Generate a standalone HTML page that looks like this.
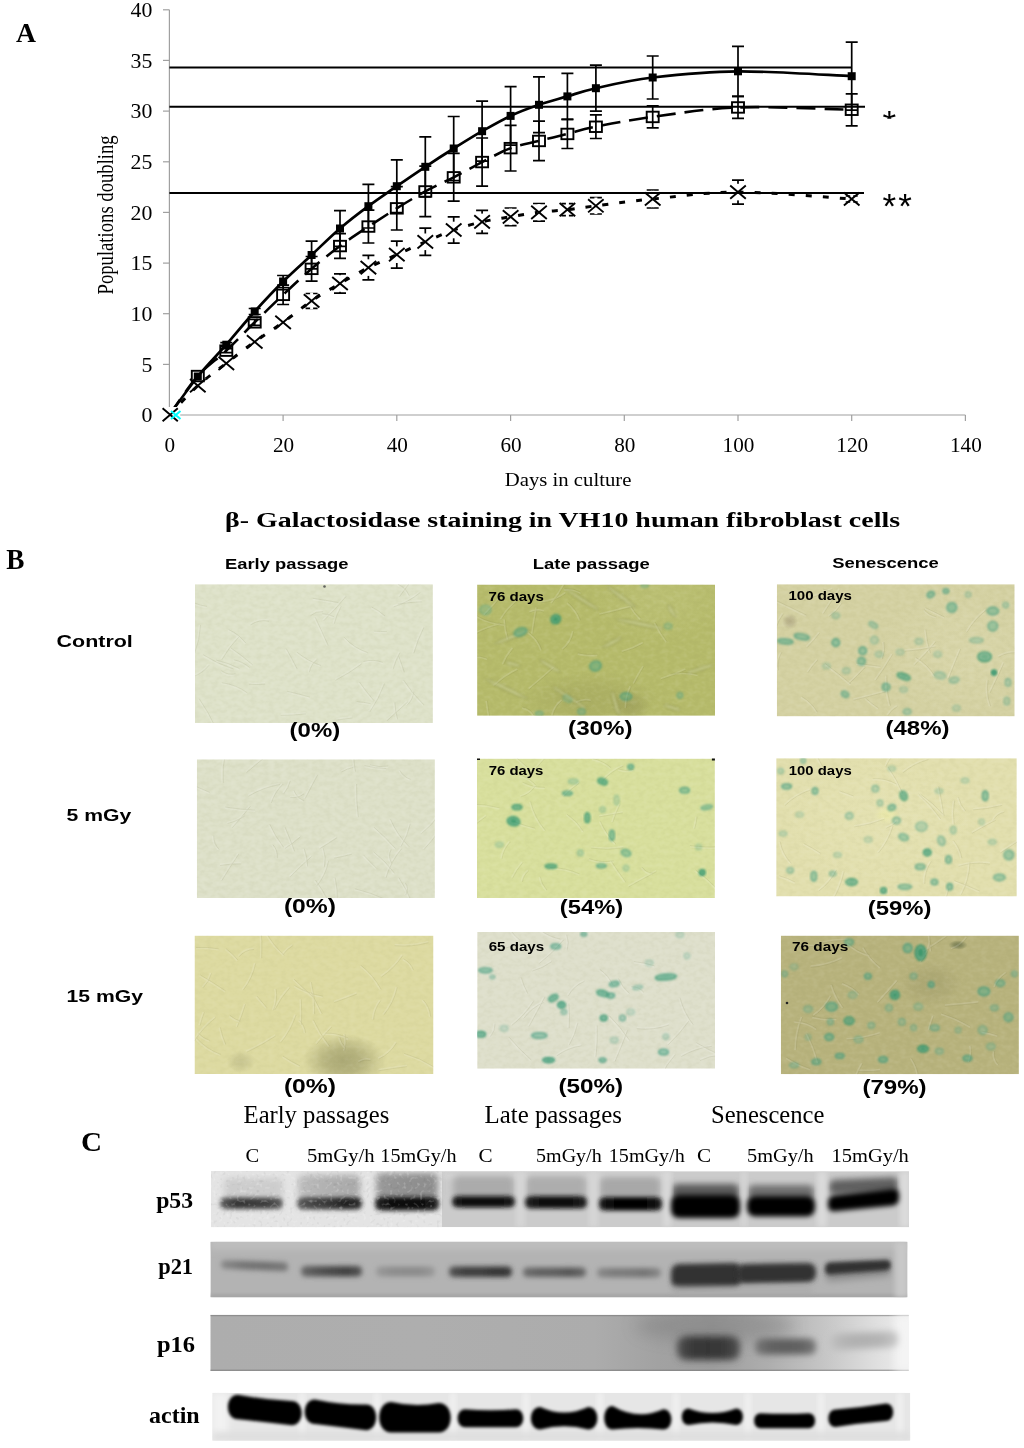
<!DOCTYPE html>
<html><head><meta charset="utf-8"><style>
html,body{margin:0;padding:0;background:#fff;}
svg{display:block;will-change:transform;}
</style></head><body>
<svg width="1024" height="1448" viewBox="0 0 1024 1448">
<defs><linearGradient id="g0" x1="0" x2="1" y1="0" y2="0"><stop offset="0.00" stop-color="#bcbcbc"/><stop offset="0.50" stop-color="#b0b0b0"/><stop offset="1.00" stop-color="#a8a8a8"/></linearGradient><linearGradient id="g1" x1="0" x2="1" y1="0" y2="0"><stop offset="0.00" stop-color="#9a9a9a"/><stop offset="0.50" stop-color="#909090"/><stop offset="1.00" stop-color="#8e8e8e"/></linearGradient><linearGradient id="g2" x1="0" x2="1" y1="0" y2="0"><stop offset="0.00" stop-color="#606060"/><stop offset="0.25" stop-color="#383838"/><stop offset="0.50" stop-color="#3a3a3a"/><stop offset="0.75" stop-color="#404040"/><stop offset="1.00" stop-color="#606060"/></linearGradient><linearGradient id="g3" x1="0" x2="1" y1="0" y2="0"><stop offset="0.00" stop-color="#606060"/><stop offset="0.25" stop-color="#444444"/><stop offset="0.50" stop-color="#383838"/><stop offset="0.75" stop-color="#222222"/><stop offset="1.00" stop-color="#2e2e2e"/></linearGradient><linearGradient id="g4" x1="0" x2="1" y1="0" y2="0"><stop offset="0.00" stop-color="#282828"/><stop offset="0.25" stop-color="#0e0e0e"/><stop offset="0.50" stop-color="#101010"/><stop offset="0.75" stop-color="#0e0e0e"/><stop offset="1.00" stop-color="#282828"/></linearGradient><linearGradient id="g5" x1="0" x2="1" y1="0" y2="0"><stop offset="0.00" stop-color="#222222"/><stop offset="0.25" stop-color="#080808"/><stop offset="0.50" stop-color="#080808"/><stop offset="0.75" stop-color="#0a0a0a"/><stop offset="1.00" stop-color="#222222"/></linearGradient><linearGradient id="g6" x1="0" x2="1" y1="0" y2="0"><stop offset="0.00" stop-color="#252525"/><stop offset="0.25" stop-color="#101010"/><stop offset="0.50" stop-color="#0c0c0c"/><stop offset="0.75" stop-color="#101010"/><stop offset="1.00" stop-color="#252525"/></linearGradient><linearGradient id="g7" x1="0" x2="1" y1="0" y2="0"><stop offset="0.00" stop-color="#1c1c1c"/><stop offset="0.25" stop-color="#050505"/><stop offset="0.50" stop-color="#050505"/><stop offset="0.75" stop-color="#050505"/><stop offset="1.00" stop-color="#1c1c1c"/></linearGradient><linearGradient id="g8" x1="0" x2="1" y1="0" y2="0"><stop offset="0.00" stop-color="#8a8a8a"/><stop offset="0.33" stop-color="#747474"/><stop offset="0.67" stop-color="#707070"/><stop offset="1.00" stop-color="#7a7a7a"/></linearGradient><linearGradient id="g9" x1="0" x2="1" y1="0" y2="0"><stop offset="0.00" stop-color="#6a6a6a"/><stop offset="0.25" stop-color="#555555"/><stop offset="0.50" stop-color="#4a4a4a"/><stop offset="0.75" stop-color="#404040"/><stop offset="1.00" stop-color="#555555"/></linearGradient><linearGradient id="g10" x1="0" x2="1" y1="0" y2="0"><stop offset="0.00" stop-color="#9a9a9a"/><stop offset="0.25" stop-color="#8e8e8e"/><stop offset="0.50" stop-color="#8c8c8c"/><stop offset="0.75" stop-color="#8c8c8c"/><stop offset="1.00" stop-color="#9a9a9a"/></linearGradient><linearGradient id="g11" x1="0" x2="1" y1="0" y2="0"><stop offset="0.00" stop-color="#555555"/><stop offset="0.25" stop-color="#3e3e3e"/><stop offset="0.50" stop-color="#3e3e3e"/><stop offset="0.75" stop-color="#333333"/><stop offset="1.00" stop-color="#3a3a3a"/></linearGradient><linearGradient id="g12" x1="0" x2="1" y1="0" y2="0"><stop offset="0.00" stop-color="#6e6e6e"/><stop offset="0.25" stop-color="#616161"/><stop offset="0.50" stop-color="#5e5e5e"/><stop offset="0.75" stop-color="#555555"/><stop offset="1.00" stop-color="#6a6a6a"/></linearGradient><linearGradient id="g13" x1="0" x2="1" y1="0" y2="0"><stop offset="0.00" stop-color="#8a8a8a"/><stop offset="0.25" stop-color="#7c7c7c"/><stop offset="0.50" stop-color="#7a7a7a"/><stop offset="0.75" stop-color="#747474"/><stop offset="1.00" stop-color="#8a8a8a"/></linearGradient><linearGradient id="g14" x1="0" x2="1" y1="0" y2="0"><stop offset="0.00" stop-color="#505050"/><stop offset="0.25" stop-color="#383838"/><stop offset="0.50" stop-color="#363636"/><stop offset="0.75" stop-color="#3a3a3a"/><stop offset="1.00" stop-color="#505050"/></linearGradient><linearGradient id="g15" x1="0" x2="1" y1="0" y2="0"><stop offset="0.00" stop-color="#787878"/><stop offset="0.25" stop-color="#626262"/><stop offset="0.50" stop-color="#5e5e5e"/><stop offset="0.75" stop-color="#626262"/><stop offset="1.00" stop-color="#787878"/></linearGradient><linearGradient id="g16" x1="0" x2="1" y1="0" y2="0"><stop offset="0.00" stop-color="#c0c0c0"/><stop offset="0.25" stop-color="#b2b2b2"/><stop offset="0.50" stop-color="#b0b0b0"/><stop offset="0.75" stop-color="#b4b4b4"/><stop offset="1.00" stop-color="#c8c8c8"/></linearGradient><filter id="b5" x="-30%" y="-60%" width="160%" height="220%"><feGaussianBlur stdDeviation="0.5"/></filter><filter id="b6" x="-30%" y="-60%" width="160%" height="220%"><feGaussianBlur stdDeviation="0.6"/></filter><filter id="b8" x="-30%" y="-60%" width="160%" height="220%"><feGaussianBlur stdDeviation="0.8"/></filter><filter id="b10" x="-30%" y="-60%" width="160%" height="220%"><feGaussianBlur stdDeviation="1.0"/></filter><filter id="b15" x="-30%" y="-60%" width="160%" height="220%"><feGaussianBlur stdDeviation="1.5"/></filter><filter id="b18" x="-30%" y="-60%" width="160%" height="220%"><feGaussianBlur stdDeviation="1.8"/></filter><filter id="b20" x="-30%" y="-60%" width="160%" height="220%"><feGaussianBlur stdDeviation="2.0"/></filter><filter id="b22" x="-30%" y="-60%" width="160%" height="220%"><feGaussianBlur stdDeviation="2.2"/></filter><filter id="b24" x="-30%" y="-60%" width="160%" height="220%"><feGaussianBlur stdDeviation="2.4"/></filter><filter id="b25" x="-30%" y="-60%" width="160%" height="220%"><feGaussianBlur stdDeviation="2.5"/></filter><filter id="b26" x="-30%" y="-60%" width="160%" height="220%"><feGaussianBlur stdDeviation="2.6"/></filter><filter id="b28" x="-30%" y="-60%" width="160%" height="220%"><feGaussianBlur stdDeviation="2.8"/></filter><filter id="b30" x="-30%" y="-60%" width="160%" height="220%"><feGaussianBlur stdDeviation="3.0"/></filter><filter id="b34" x="-30%" y="-60%" width="160%" height="220%"><feGaussianBlur stdDeviation="3.4"/></filter><filter id="b35" x="-30%" y="-60%" width="160%" height="220%"><feGaussianBlur stdDeviation="3.5"/></filter><filter id="b36" x="-30%" y="-60%" width="160%" height="220%"><feGaussianBlur stdDeviation="3.6"/></filter><filter id="b40" x="-30%" y="-60%" width="160%" height="220%"><feGaussianBlur stdDeviation="4.0"/></filter><filter id="b80" x="-30%" y="-60%" width="160%" height="220%"><feGaussianBlur stdDeviation="8.0"/></filter></defs>
<text x="16" y="41.7" font-family="Liberation Serif" font-weight="bold" font-size="28" textLength="20" lengthAdjust="spacingAndGlyphs">A</text>
<g stroke="#a0a0a0" stroke-width="1.2" fill="none">
<path d="M169.4,9.8 V415 H965.4"/>
<path d="M163,415.0 H169.4"/>
<path d="M163,364.4 H169.4"/>
<path d="M163,313.7 H169.4"/>
<path d="M163,263.1 H169.4"/>
<path d="M163,212.4 H169.4"/>
<path d="M163,161.8 H169.4"/>
<path d="M163,111.1 H169.4"/>
<path d="M163,60.4 H169.4"/>
<path d="M163,9.8 H169.4"/>
<path d="M169.4,415 V421"/>
<path d="M283.1,415 V421"/>
<path d="M396.8,415 V421"/>
<path d="M510.6,415 V421"/>
<path d="M624.3,415 V421"/>
<path d="M738.0,415 V421"/>
<path d="M851.7,415 V421"/>
<path d="M965.4,415 V421"/>
</g>
<g font-family="Liberation Serif" font-size="20.5" fill="#000" text-anchor="end">
<text x="152.3" y="422.3" textLength="10.9" lengthAdjust="spacingAndGlyphs">0</text>
<text x="152.3" y="371.7" textLength="10.9" lengthAdjust="spacingAndGlyphs">5</text>
<text x="152.3" y="321.0" textLength="21.8" lengthAdjust="spacingAndGlyphs">10</text>
<text x="152.3" y="270.4" textLength="21.8" lengthAdjust="spacingAndGlyphs">15</text>
<text x="152.3" y="219.7" textLength="21.8" lengthAdjust="spacingAndGlyphs">20</text>
<text x="152.3" y="169.1" textLength="21.8" lengthAdjust="spacingAndGlyphs">25</text>
<text x="152.3" y="118.4" textLength="21.8" lengthAdjust="spacingAndGlyphs">30</text>
<text x="152.3" y="67.7" textLength="21.8" lengthAdjust="spacingAndGlyphs">35</text>
<text x="152.3" y="17.1" textLength="21.8" lengthAdjust="spacingAndGlyphs">40</text>
</g>
<g font-family="Liberation Serif" font-size="20.5" fill="#000" text-anchor="middle">
<text x="169.9" y="451.7" textLength="10.6" lengthAdjust="spacingAndGlyphs">0</text>
<text x="283.6" y="451.7" textLength="21.2" lengthAdjust="spacingAndGlyphs">20</text>
<text x="397.3" y="451.7" textLength="21.2" lengthAdjust="spacingAndGlyphs">40</text>
<text x="511.1" y="451.7" textLength="21.2" lengthAdjust="spacingAndGlyphs">60</text>
<text x="624.8" y="451.7" textLength="21.2" lengthAdjust="spacingAndGlyphs">80</text>
<text x="738.5" y="451.7" textLength="31.8" lengthAdjust="spacingAndGlyphs">100</text>
<text x="852.2" y="451.7" textLength="31.8" lengthAdjust="spacingAndGlyphs">120</text>
<text x="965.9" y="451.7" textLength="31.8" lengthAdjust="spacingAndGlyphs">140</text>
</g>
<text x="504.8" y="486" font-family="Liberation Serif" font-size="19" textLength="126.6" lengthAdjust="spacingAndGlyphs">Days in culture</text>
<text transform="translate(112.7,294.5) rotate(-90)" font-family="Liberation Serif" font-size="23.6" textLength="159.2" lengthAdjust="spacingAndGlyphs">Populations doubling</text>
<path d="M169.4,415.0 C174.1,410.1 188.4,394.3 197.8,385.7 C207.3,377.1 216.8,370.6 226.3,363.3 C235.7,356.0 245.2,348.6 254.7,341.8 C264.2,335.0 273.6,329.1 283.1,322.3 C292.6,315.5 302.1,307.4 311.6,300.9 C321.0,294.4 330.5,289.1 340.0,283.5 C349.5,277.9 358.9,272.4 368.4,267.6 C377.9,262.8 387.4,259.0 396.8,254.7 C406.3,250.4 415.8,245.9 425.3,241.8 C434.7,237.7 444.2,233.3 453.7,230.0 C463.2,226.7 472.7,224.1 482.1,221.9 C491.6,219.7 501.1,218.4 510.6,216.8 C520.0,215.2 529.5,213.5 539.0,212.3 C548.5,211.1 557.9,210.8 567.4,209.7 C576.9,208.6 581.6,207.6 595.9,205.8 C610.1,204.0 629.0,201.3 652.7,199.0 C676.4,196.7 704.8,192.1 738.0,192.1 C771.2,192.1 832.8,197.8 851.7,199.0" fill="none" stroke="#000" stroke-width="3" stroke-dasharray="6 11"/>
<path d="M169.4,415.0 C174.1,408.5 188.4,386.7 197.8,376.0 C207.3,365.3 216.8,359.6 226.3,350.6 C235.7,341.7 245.2,331.6 254.7,322.3 C264.2,313.0 273.6,303.7 283.1,294.8 C292.6,285.9 302.1,276.9 311.6,268.8 C321.0,260.7 330.5,253.0 340.0,246.0 C349.5,239.0 358.9,232.9 368.4,226.6 C377.9,220.3 387.4,214.2 396.8,208.3 C406.3,202.4 415.8,196.6 425.3,191.4 C434.7,186.2 444.2,182.2 453.7,177.3 C463.2,172.4 472.7,166.9 482.1,162.1 C491.6,157.2 501.1,151.7 510.6,148.2 C520.0,144.7 529.5,143.3 539.0,140.9 C548.5,138.5 557.9,136.3 567.4,133.9 C576.9,131.5 581.6,129.5 595.9,126.7 C610.1,123.9 629.0,120.1 652.7,116.9 C676.4,113.7 704.8,108.6 738.0,107.4 C771.2,106.2 832.8,109.4 851.7,109.8" fill="none" stroke="#000" stroke-width="2.6" stroke-dasharray="19 9"/>
<path d="M169.4,415.0 C174.1,408.6 188.4,388.2 197.8,376.5 C207.3,364.8 216.8,355.5 226.3,344.7 C235.7,333.9 245.2,322.0 254.7,311.5 C264.2,301.0 273.6,290.9 283.1,281.5 C292.6,272.1 302.1,263.8 311.6,255.0 C321.0,246.2 330.5,236.6 340.0,228.5 C349.5,220.4 358.9,213.2 368.4,206.2 C377.9,199.1 387.4,192.8 396.8,186.2 C406.3,179.6 415.8,173.1 425.3,166.8 C434.7,160.5 444.2,154.4 453.7,148.5 C463.2,142.6 472.7,136.6 482.1,131.2 C491.6,125.8 501.1,120.3 510.6,115.9 C520.0,111.5 529.5,108.0 539.0,104.8 C548.5,101.5 557.9,99.2 567.4,96.4 C576.9,93.6 581.6,91.4 595.9,88.2 C610.1,85.0 629.0,80.3 652.7,77.5 C676.4,74.7 704.8,71.5 738.0,71.3 C771.2,71.1 832.8,75.4 851.7,76.2" fill="none" stroke="#000" stroke-width="2.7"/>
<g stroke="#000" stroke-width="1.7" fill="none">
<path d="M226.3,342.7 V346.7 M220.3,342.7 H232.3 M220.3,346.7 H232.3"/>
<path d="M254.7,308.5 V314.5 M248.7,308.5 H260.7 M248.7,314.5 H260.7"/>
<path d="M283.1,275.5 V287.5 M277.1,275.5 H289.1 M277.1,287.5 H289.1"/>
<path d="M311.6,241.2 V268.8 M305.6,241.2 H317.6 M305.6,268.8 H317.6"/>
<path d="M340.0,210.7 V246.3 M334.0,210.7 H346.0 M334.0,246.3 H346.0"/>
<path d="M368.4,184.4 V228.0 M362.4,184.4 H374.4 M362.4,228.0 H374.4"/>
<path d="M396.8,159.8 V212.6 M390.8,159.8 H402.8 M390.8,212.6 H402.8"/>
<path d="M425.3,136.8 V196.8 M419.3,136.8 H431.3 M419.3,196.8 H431.3"/>
<path d="M453.7,116.5 V180.5 M447.7,116.5 H459.7 M447.7,180.5 H459.7"/>
<path d="M482.1,101.2 V161.2 M476.1,101.2 H488.1 M476.1,161.2 H488.1"/>
<path d="M510.6,86.6 V145.2 M504.6,86.6 H516.6 M504.6,145.2 H516.6"/>
<path d="M539.0,76.9 V132.7 M533.0,76.9 H545.0 M533.0,132.7 H545.0"/>
<path d="M567.4,73.4 V119.4 M561.4,73.4 H573.4 M561.4,119.4 H573.4"/>
<path d="M595.9,65.2 V111.2 M589.9,65.2 H601.9 M589.9,111.2 H601.9"/>
<path d="M652.7,56.0 V99.0 M646.7,56.0 H658.7 M646.7,99.0 H658.7"/>
<path d="M738.0,46.3 V96.3 M732.0,46.3 H744.0 M732.0,96.3 H744.0"/>
<path d="M851.7,42.2 V110.2 M845.7,42.2 H857.7 M845.7,110.2 H857.7"/>
<path d="M226.3,348.6 V352.6 M220.3,348.6 H232.3 M220.3,352.6 H232.3"/>
<path d="M254.7,319.3 V325.3 M248.7,319.3 H260.7 M248.7,325.3 H260.7"/>
<path d="M283.1,285.1 V304.5 M277.1,285.1 H289.1 M277.1,304.5 H289.1"/>
<path d="M311.6,256.5 V281.1 M305.6,256.5 H317.6 M305.6,281.1 H317.6"/>
<path d="M340.0,233.7 V258.3 M334.0,233.7 H346.0 M334.0,258.3 H346.0"/>
<path d="M368.4,210.2 V243.0 M362.4,210.2 H374.4 M362.4,243.0 H374.4"/>
<path d="M396.8,186.6 V230.0 M390.8,186.6 H402.8 M390.8,230.0 H402.8"/>
<path d="M425.3,166.1 V216.7 M419.3,166.1 H431.3 M419.3,216.7 H431.3"/>
<path d="M453.7,153.4 V201.2 M447.7,153.4 H459.7 M447.7,201.2 H459.7"/>
<path d="M482.1,138.0 V186.2 M476.1,138.0 H488.1 M476.1,186.2 H488.1"/>
<path d="M510.6,125.4 V171.0 M504.6,125.4 H516.6 M504.6,171.0 H516.6"/>
<path d="M539.0,121.1 V160.7 M533.0,121.1 H545.0 M533.0,160.7 H545.0"/>
<path d="M567.4,119.3 V148.5 M561.4,119.3 H573.4 M561.4,148.5 H573.4"/>
<path d="M595.9,114.9 V138.5 M589.9,114.9 H601.9 M589.9,138.5 H601.9"/>
<path d="M652.7,105.9 V127.9 M646.7,105.9 H658.7 M646.7,127.9 H658.7"/>
<path d="M738.0,96.4 V118.4 M732.0,96.4 H744.0 M732.0,118.4 H744.0"/>
<path d="M851.7,93.8 V125.8 M845.7,93.8 H857.7 M845.7,125.8 H857.7"/>
<path d="M311.6,293.5 V308.3 M305.6,293.5 H317.6 M305.6,308.3 H317.6"/>
<path d="M340.0,273.9 V293.1 M334.0,273.9 H346.0 M334.0,293.1 H346.0"/>
<path d="M368.4,255.4 V279.8 M362.4,255.4 H374.4 M362.4,279.8 H374.4"/>
<path d="M396.8,241.2 V268.2 M390.8,241.2 H402.8 M390.8,268.2 H402.8"/>
<path d="M425.3,228.2 V255.4 M419.3,228.2 H431.3 M419.3,255.4 H431.3"/>
<path d="M453.7,216.8 V243.2 M447.7,216.8 H459.7 M447.7,243.2 H459.7"/>
<path d="M482.1,210.4 V233.4 M476.1,210.4 H488.1 M476.1,233.4 H488.1"/>
<path d="M510.6,208.0 V225.6 M504.6,208.0 H516.6 M504.6,225.6 H516.6"/>
<path d="M539.0,203.5 V221.1 M533.0,203.5 H545.0 M533.0,221.1 H545.0"/>
<path d="M567.4,203.7 V215.7 M561.4,203.7 H573.4 M561.4,215.7 H573.4"/>
<path d="M595.9,197.6 V214.0 M589.9,197.6 H601.9 M589.9,214.0 H601.9"/>
<path d="M652.7,190.0 V208.0 M646.7,190.0 H658.7 M646.7,208.0 H658.7"/>
<path d="M738.0,180.1 V204.1 M732.0,180.1 H744.0 M732.0,204.1 H744.0"/>
<path d="M851.7,196.0 V202.0 M845.7,196.0 H857.7 M845.7,202.0 H857.7"/>
</g>
<g fill="#fff">
<rect x="310.1" y="292.6" width="3" height="16.6"/>
<rect x="338.5" y="275.2" width="3" height="16.6"/>
<rect x="366.9" y="259.3" width="3" height="16.6"/>
<rect x="395.3" y="246.4" width="3" height="16.6"/>
<rect x="423.8" y="233.5" width="3" height="16.6"/>
<rect x="452.2" y="221.7" width="3" height="16.6"/>
<rect x="480.6" y="213.6" width="3" height="16.6"/>
<rect x="509.1" y="208.5" width="3" height="16.6"/>
<rect x="537.5" y="204.0" width="3" height="16.6"/>
<rect x="565.9" y="201.4" width="3" height="16.6"/>
<rect x="594.4" y="197.5" width="3" height="16.6"/>
<rect x="651.2" y="190.7" width="3" height="16.6"/>
<rect x="736.5" y="183.8" width="3" height="16.6"/>
<rect x="850.2" y="190.7" width="3" height="16.6"/>
</g>
<g stroke="#000" stroke-width="1.9" fill="none">
<path d="M190.0,379.1 L205.6,392.3 M190.0,392.3 L205.6,379.1"/>
<path d="M218.5,356.7 L234.1,369.9 M218.5,369.9 L234.1,356.7"/>
<path d="M246.9,335.2 L262.5,348.4 M246.9,348.4 L262.5,335.2"/>
<path d="M275.3,315.7 L290.9,328.9 M275.3,328.9 L290.9,315.7"/>
<path d="M303.8,294.3 L319.4,307.5 M303.8,307.5 L319.4,294.3"/>
<path d="M332.2,276.9 L347.8,290.1 M332.2,290.1 L347.8,276.9"/>
<path d="M360.6,261.0 L376.2,274.2 M360.6,274.2 L376.2,261.0"/>
<path d="M389.0,248.1 L404.6,261.3 M389.0,261.3 L404.6,248.1"/>
<path d="M417.5,235.2 L433.1,248.4 M417.5,248.4 L433.1,235.2"/>
<path d="M445.9,223.4 L461.5,236.6 M445.9,236.6 L461.5,223.4"/>
<path d="M474.3,215.3 L489.9,228.5 M474.3,228.5 L489.9,215.3"/>
<path d="M502.8,210.2 L518.4,223.4 M502.8,223.4 L518.4,210.2"/>
<path d="M531.2,205.7 L546.8,218.9 M531.2,218.9 L546.8,205.7"/>
<path d="M559.6,203.1 L575.2,216.3 M559.6,216.3 L575.2,203.1"/>
<path d="M588.1,199.2 L603.6,212.4 M588.1,212.4 L603.6,199.2"/>
<path d="M644.9,192.4 L660.5,205.6 M644.9,205.6 L660.5,192.4"/>
<path d="M730.2,185.5 L745.8,198.7 M730.2,198.7 L745.8,185.5"/>
<path d="M843.9,192.4 L859.5,205.6 M843.9,205.6 L859.5,192.4"/>
<rect x="162" y="407" width="18.2" height="15.5" fill="#fff" stroke="none"/>
<path d="M162.6,408.3 L177.8,421.2 M162.6,421.2 L177.8,408.3"/>
<rect x="191.8" y="370.8" width="12" height="10.5"/>
<rect x="220.3" y="345.4" width="12" height="10.5"/>
<rect x="248.7" y="317.1" width="12" height="10.5"/>
<rect x="277.1" y="289.6" width="12" height="10.5"/>
<rect x="305.6" y="263.6" width="12" height="10.5"/>
<rect x="334.0" y="240.8" width="12" height="10.5"/>
<rect x="362.4" y="221.3" width="12" height="10.5"/>
<rect x="390.8" y="203.1" width="12" height="10.5"/>
<rect x="419.3" y="186.2" width="12" height="10.5"/>
<rect x="447.7" y="172.1" width="12" height="10.5"/>
<rect x="476.1" y="156.8" width="12" height="10.5"/>
<rect x="504.6" y="142.9" width="12" height="10.5"/>
<rect x="533.0" y="135.7" width="12" height="10.5"/>
<rect x="561.4" y="128.7" width="12" height="10.5"/>
<rect x="589.9" y="121.5" width="12" height="10.5"/>
<rect x="646.7" y="111.7" width="12" height="10.5"/>
<rect x="732.0" y="102.2" width="12" height="10.5"/>
<rect x="845.7" y="104.5" width="12" height="10.5"/>
</g>
<g fill="#000">
<rect x="193.8" y="372.5" width="8" height="8"/>
<rect x="222.3" y="340.7" width="8" height="8"/>
<rect x="250.7" y="307.5" width="8" height="8"/>
<rect x="279.1" y="277.5" width="8" height="8"/>
<rect x="307.6" y="251.0" width="8" height="8"/>
<rect x="336.0" y="224.5" width="8" height="8"/>
<rect x="364.4" y="202.2" width="8" height="8"/>
<rect x="392.8" y="182.2" width="8" height="8"/>
<rect x="421.3" y="162.8" width="8" height="8"/>
<rect x="449.7" y="144.5" width="8" height="8"/>
<rect x="478.1" y="127.2" width="8" height="8"/>
<rect x="506.6" y="111.9" width="8" height="8"/>
<rect x="535.0" y="100.8" width="8" height="8"/>
<rect x="563.4" y="92.4" width="8" height="8"/>
<rect x="591.9" y="84.2" width="8" height="8"/>
<rect x="648.7" y="73.5" width="8" height="8"/>
<rect x="734.0" y="67.3" width="8" height="8"/>
<rect x="847.7" y="72.2" width="8" height="8"/>
</g>
<g stroke="#000" stroke-width="2">
<path d="M169.4,67.5 H852"/>
<path d="M169.4,106.7 H865"/>
<path d="M169.4,193 H864"/>
</g>
<path d="M171,411 L180.5,419 M171,419 L180.5,411" stroke="#00ffff" stroke-width="2"/>
<clipPath id="ast"><rect x="878" y="105" width="24" height="13.8"/></clipPath>
<g font-family="Liberation Sans" font-size="35" fill="#000">
<text x="882.6" y="135" clip-path="url(#ast)">*</text>
<text x="882.6" y="218.4">*</text>
<text x="898.2" y="218.4">*</text>
</g>
<text x="225" y="526.6" font-family="Liberation Serif" font-weight="bold" font-size="20.5" textLength="675" lengthAdjust="spacingAndGlyphs">β- Galactosidase staining in VH10 human fibroblast cells</text>
<text x="6.2" y="568.7" font-family="Liberation Serif" font-weight="bold" font-size="29" textLength="18.2" lengthAdjust="spacingAndGlyphs">B</text>
<text x="225.0" y="568.6" font-family="Liberation Sans" font-weight="bold" font-size="15.5" textLength="123.4" lengthAdjust="spacingAndGlyphs">Early passage</text>
<text x="532.8" y="568.6" font-family="Liberation Sans" font-weight="bold" font-size="15.5" textLength="116.9" lengthAdjust="spacingAndGlyphs">Late passage</text>
<text x="832.2" y="568.4" font-family="Liberation Sans" font-weight="bold" font-size="15.5" textLength="106.5" lengthAdjust="spacingAndGlyphs">Senescence</text>
<text x="56.6" y="647.2" font-family="Liberation Sans" font-weight="bold" font-size="17.2" textLength="76.2" lengthAdjust="spacingAndGlyphs">Control</text>
<text x="66.5" y="820.9" font-family="Liberation Sans" font-weight="bold" font-size="17.2" textLength="64.7" lengthAdjust="spacingAndGlyphs">5 mGy</text>
<text x="66.5" y="1002.1" font-family="Liberation Sans" font-weight="bold" font-size="17.2" textLength="76.4" lengthAdjust="spacingAndGlyphs">15 mGy</text>
<filter id="texL0" x="0" y="0" width="100%" height="100%"><feTurbulence type="fractalNoise" baseFrequency="0.16 0.22" numOctaves="2" seed="11"/><feColorMatrix type="matrix" values="0 0 0 0 1  0 0 0 0 1  0 0 0 0 1  3 0 0 0 -1.45"/></filter>
<filter id="texD0" x="0" y="0" width="100%" height="100%"><feTurbulence type="fractalNoise" baseFrequency="0.16 0.22" numOctaves="2" seed="11"/><feColorMatrix type="matrix" values="0 0 0 0 0.25  0 0 0 0 0.25  0 0 0 0 0.1  -3 0 0 0 1.55"/></filter>
<filter id="texL1" x="0" y="0" width="100%" height="100%"><feTurbulence type="fractalNoise" baseFrequency="0.16 0.22" numOctaves="2" seed="18"/><feColorMatrix type="matrix" values="0 0 0 0 1  0 0 0 0 1  0 0 0 0 1  3 0 0 0 -1.45"/></filter>
<filter id="texD1" x="0" y="0" width="100%" height="100%"><feTurbulence type="fractalNoise" baseFrequency="0.16 0.22" numOctaves="2" seed="18"/><feColorMatrix type="matrix" values="0 0 0 0 0.25  0 0 0 0 0.25  0 0 0 0 0.1  -3 0 0 0 1.55"/></filter>
<filter id="texL2" x="0" y="0" width="100%" height="100%"><feTurbulence type="fractalNoise" baseFrequency="0.16 0.22" numOctaves="2" seed="25"/><feColorMatrix type="matrix" values="0 0 0 0 1  0 0 0 0 1  0 0 0 0 1  3 0 0 0 -1.45"/></filter>
<filter id="texD2" x="0" y="0" width="100%" height="100%"><feTurbulence type="fractalNoise" baseFrequency="0.16 0.22" numOctaves="2" seed="25"/><feColorMatrix type="matrix" values="0 0 0 0 0.25  0 0 0 0 0.25  0 0 0 0 0.1  -3 0 0 0 1.55"/></filter>
<clipPath id="ci0"><rect x="195.0" y="584.2" width="237.9" height="138.9"/></clipPath>
<g clip-path="url(#ci0)">
<rect x="195.0" y="584.2" width="237.9" height="138.9" fill="#dee2c9"/>
<rect x="195.0" y="584.2" width="237.9" height="138.9" filter="url(#texL0)" opacity="0.10"/>
<rect x="195.0" y="584.2" width="237.9" height="138.9" filter="url(#texD0)" opacity="0.05"/>
<path d="M238.4,635.8 Q228.2,646.3 220.9,659.0 M286.6,692.4 Q298.2,695.0 309.6,698.3 M198.3,699.5 Q207.7,713.0 214.5,728.1 M371.1,608.1 Q378.4,611.5 384.3,617.0 M352.2,716.9 Q343.9,717.6 335.8,719.1 M412.9,690.9 Q412.1,699.2 405.9,704.8 M199.3,624.9 Q198.7,639.6 193.3,653.3 M393.7,702.6 Q394.0,711.3 396.5,719.6 M421.7,600.6 Q409.6,600.9 397.6,603.0 M358.5,682.7 Q365.1,692.3 372.7,701.0 M314.2,617.9 Q320.8,631.8 327.1,645.9 M383.4,683.2 Q377.9,698.1 368.9,711.3 M406.9,701.2 Q396.5,710.4 386.3,719.8 M316.4,658.7 Q309.9,663.6 308.4,671.6 M221.4,683.8 Q235.5,685.6 247.0,694.0 M340.1,605.9 Q335.5,614.2 333.1,623.4 M363.5,662.7 Q373.2,660.0 382.8,663.5 M229.9,648.7 Q241.4,656.5 251.9,665.7 M422.8,626.9 Q416.6,639.4 412.7,652.7 M296.4,653.3 Q307.3,662.0 320.4,666.6 M396.9,585.0 Q404.9,588.4 408.5,596.5 M221.1,671.8 Q227.6,676.8 235.5,674.8 M285.4,649.4 Q291.0,659.1 295.9,669.2 M233.3,660.9 Q242.2,662.6 249.1,668.6 M305.7,712.7 Q293.2,714.2 280.6,714.2 M265.1,682.9 Q257.0,683.8 248.9,683.0 M268.7,620.0 Q258.8,618.0 250.4,623.7 M321.9,614.9 Q328.2,614.9 333.8,617.9 M360.9,663.0 Q348.5,672.2 334.9,679.4 M343.6,638.3 Q353.2,649.1 367.0,653.6 M208.4,664.2 Q202.1,672.3 192.4,675.8 M415.4,573.3 Q406.9,584.6 398.5,596.0 M227.9,630.5 Q238.2,635.2 245.1,644.0 M398.9,652.2 Q394.4,660.1 392.0,668.8 M215.7,661.2 Q227.9,663.9 239.0,669.6 M397.6,656.6 Q400.7,664.5 403.1,672.6 M356.6,702.7 Q363.6,703.3 370.4,704.8 M192.9,603.7 Q199.5,606.6 206.6,607.6 M202.7,655.8 Q216.8,664.8 232.7,670.0 M345.1,595.7 Q334.7,608.5 322.8,619.9 M419.7,591.5 Q407.8,601.4 393.0,605.9 M402.6,680.7 Q411.3,694.3 422.9,705.5 M374.1,632.3 Q380.5,632.6 386.9,632.9 M312.6,599.5 Q325.4,601.4 338.1,603.7 M322.7,610.5 Q315.6,609.8 310.3,614.4" stroke="#ffffff" stroke-width="1.6" opacity="0.13" fill="none" filter="url(#b6)"/>
<path d="M239.3,636.5 Q229.1,647.0 221.9,659.7 M286.9,691.2 Q298.5,693.8 309.9,697.1 M199.3,698.9 Q208.8,712.4 215.6,727.5 M371.8,607.1 Q379.1,610.5 385.0,616.0 M352.4,718.0 Q344.1,718.8 335.9,720.3 M413.9,691.4 Q413.1,699.7 407.0,705.3 M200.5,625.2 Q199.9,639.9 194.5,653.6 M394.9,702.4 Q395.2,711.1 397.7,719.4 M421.8,601.8 Q409.7,602.1 397.8,604.2 M359.5,682.0 Q366.0,691.5 373.7,700.3 M315.3,617.4 Q321.9,631.3 328.2,645.4 M384.5,683.7 Q379.0,698.7 370.0,711.8 M407.7,702.1 Q397.3,711.3 387.1,720.7 M317.4,659.3 Q311.0,664.2 309.4,672.2 M221.8,682.7 Q236.0,684.5 247.4,692.9 M341.2,606.4 Q336.6,614.6 334.3,623.8 M363.5,661.5 Q373.3,658.8 382.8,662.3 M230.6,647.7 Q242.1,655.5 252.6,664.7 M423.9,627.4 Q417.7,639.8 413.9,653.2 M297.0,652.2 Q307.8,661.0 321.0,665.5 M397.7,584.1 Q405.8,587.6 409.3,595.7 M221.4,670.6 Q227.8,675.6 235.7,673.7 M286.4,648.8 Q292.0,658.5 297.0,668.6 M233.9,659.8 Q242.8,661.6 249.6,667.5 M305.8,713.9 Q293.3,715.4 280.7,715.4 M265.1,684.1 Q257.0,685.0 248.9,684.2 M269.0,621.2 Q259.0,619.2 250.6,624.9 M322.2,613.7 Q328.5,613.7 334.1,616.8 M361.6,664.0 Q349.2,673.2 335.5,680.4 M344.2,637.2 Q353.9,648.1 367.7,652.6 M209.1,665.2 Q202.8,673.3 193.1,676.7 M416.3,574.1 Q407.9,585.3 399.5,596.7 M228.7,629.6 Q238.9,634.2 245.8,643.1 M400.0,652.7 Q395.5,660.6 393.1,669.3 M216.1,660.0 Q228.3,662.8 239.5,668.5 M398.7,656.2 Q401.8,664.1 404.3,672.2 M356.8,701.6 Q363.7,702.1 370.6,703.6 M193.2,602.5 Q199.8,605.4 207.0,606.4 M203.2,654.7 Q217.3,663.7 233.3,668.9 M346.0,596.5 Q335.6,609.3 323.7,620.8 M420.3,592.5 Q408.4,602.4 393.6,606.9 M403.5,679.9 Q412.2,693.5 423.9,704.8 M374.2,631.1 Q380.5,631.4 386.9,631.7 M312.8,598.3 Q325.6,600.2 338.3,602.5 M323.1,611.7 Q316.0,610.9 310.6,615.6" stroke="#5a5a30" stroke-width="0.8" opacity="0.10" fill="none" filter="url(#b5)"/>
</g>
<clipPath id="ci1"><rect x="477.1" y="584.5" width="237.9" height="131.3"/></clipPath>
<g clip-path="url(#ci1)">
<rect x="477.1" y="584.5" width="237.9" height="131.3" fill="#b6bb6b"/>
<radialGradient id="sh1_0"><stop offset="0" stop-color="#8a8a50" stop-opacity="0.35"/><stop offset="0.45" stop-color="#8a8a50" stop-opacity="0.26"/><stop offset="1" stop-color="#8a8a50" stop-opacity="0"/></radialGradient>
<ellipse cx="630.7" cy="705.9" rx="19.2" ry="14.4" fill="url(#sh1_0)"/>
<radialGradient id="sh1_1"><stop offset="0" stop-color="#8c8c4c" stop-opacity="0.25"/><stop offset="0.45" stop-color="#8c8c4c" stop-opacity="0.19"/><stop offset="1" stop-color="#8c8c4c" stop-opacity="0"/></radialGradient>
<ellipse cx="590.0" cy="700.0" rx="72.0" ry="28.8" fill="url(#sh1_1)"/>
<radialGradient id="sh1_2"><stop offset="0" stop-color="#c8cc88" stop-opacity="0.30"/><stop offset="0.45" stop-color="#c8cc88" stop-opacity="0.22"/><stop offset="1" stop-color="#c8cc88" stop-opacity="0"/></radialGradient>
<ellipse cx="660.0" cy="600.0" rx="64.0" ry="40.0" fill="url(#sh1_2)"/>
<rect x="477.1" y="584.5" width="237.9" height="131.3" filter="url(#texL1)" opacity="0.07"/>
<rect x="477.1" y="584.5" width="237.9" height="131.3" filter="url(#texD1)" opacity="0.07"/>
<path d="M631.5,606.1 Q615.4,610.3 599.2,614.0 M629.7,606.0 Q633.7,613.6 640.1,619.3 M522.1,708.1 Q529.5,709.3 533.2,715.9 M654.4,623.1 Q659.3,633.2 666.1,642.2 M567.0,603.1 Q575.7,610.0 579.4,620.6 M685.4,669.0 Q673.3,674.6 660.6,678.6 M572.6,631.0 Q570.7,642.0 562.0,649.0 M577.7,654.1 Q587.4,656.4 597.3,655.4 M471.7,657.8 Q479.6,656.1 487.0,659.4 M501.6,594.1 Q493.6,605.0 483.8,614.5 M642.9,642.5 Q632.9,648.3 621.7,651.2 M670.6,675.0 Q684.1,671.9 697.6,675.5 M499.9,623.7 Q483.7,627.4 469.5,636.1 M517.4,669.0 Q504.1,675.2 493.4,685.4 M520.5,597.2 Q508.2,605.8 500.5,618.8 M590.8,700.3 Q582.9,698.3 575.9,702.3 M564.1,583.4 Q558.4,594.0 550.7,603.3 M476.3,616.9 Q489.8,624.4 505.2,625.3 M543.8,610.9 Q536.4,608.1 529.4,611.8 M565.4,592.5 Q554.4,600.7 540.7,601.6 M630.1,686.2 Q625.3,696.5 625.3,707.8 M536.0,607.3 Q533.6,620.3 531.7,633.5 M561.5,699.8 Q554.0,705.8 551.8,715.3 M564.2,589.9 Q573.0,588.9 580.7,593.4 M504.1,619.5 Q504.5,629.7 507.4,639.4 M643.0,666.0 Q637.7,674.5 633.2,683.5 M512.4,648.1 Q505.8,655.2 502.4,664.3 M527.8,632.8 Q537.3,639.4 540.9,650.5 M486.2,701.0 Q487.6,715.1 491.6,728.7 M553.5,667.0 Q541.3,678.0 528.6,688.5" stroke="#ffffff" stroke-width="1.6" opacity="0.13" fill="none" filter="url(#b6)"/>
<path d="M631.8,607.3 Q615.7,611.5 599.5,615.2 M630.7,605.3 Q634.7,612.9 641.1,618.6 M522.7,707.2 Q530.2,708.3 533.9,714.9 M655.5,622.4 Q660.3,632.6 667.1,641.6 M568.0,602.4 Q576.7,609.4 580.4,619.9 M685.8,670.1 Q673.7,675.7 661.0,679.7 M573.7,631.6 Q571.8,642.6 563.1,649.7 M577.8,652.9 Q587.5,655.2 597.4,654.2 M471.8,656.6 Q479.8,654.9 487.1,658.2 M502.5,594.9 Q494.5,605.8 484.7,615.3 M643.4,643.6 Q633.3,649.4 622.1,652.4 M670.6,673.8 Q684.2,670.7 697.6,674.3 M500.3,624.8 Q484.1,628.5 470.0,637.3 M518.0,670.0 Q504.7,676.2 494.1,686.3 M521.4,598.0 Q509.1,606.7 501.3,619.6 M590.9,701.5 Q583.1,699.4 576.0,703.5 M565.1,584.1 Q559.4,594.7 551.7,604.0 M476.7,615.7 Q490.1,623.3 505.6,624.2 M543.9,612.1 Q536.5,609.3 529.4,613.0 M565.8,593.6 Q554.8,601.8 541.1,602.7 M631.3,686.5 Q626.5,696.7 626.5,708.0 M537.2,607.5 Q534.7,620.5 532.9,633.7 M562.5,700.4 Q555.0,706.5 552.8,715.9 M564.5,588.7 Q573.3,587.7 580.9,592.2 M505.3,619.3 Q505.6,629.5 508.6,639.2 M644.0,666.6 Q638.8,675.1 634.2,684.0 M513.4,648.7 Q506.9,655.8 503.5,664.9 M528.8,632.1 Q538.3,638.7 541.9,649.8 M487.4,700.7 Q488.8,714.9 492.8,728.5 M554.3,667.9 Q542.1,678.9 529.4,689.4" stroke="#5a5a30" stroke-width="0.8" opacity="0.10" fill="none" filter="url(#b5)"/>
<ellipse cx="512.3" cy="636.8" rx="20.0" ry="2.6" transform="rotate(-21.8 512.3 636.8)" fill="#70743a" opacity="0.28" filter="url(#b10)"/>
<ellipse cx="512.3" cy="636.8" rx="19.0" ry="1.3" transform="rotate(-21.8 512.3 636.8)" fill="#e4e9b0" opacity="0.55" filter="url(#b8)"/>
<ellipse cx="506.5" cy="688.8" rx="24.3" ry="2.6" transform="rotate(25.2 506.5 688.8)" fill="#70743a" opacity="0.28" filter="url(#b10)"/>
<ellipse cx="506.5" cy="688.8" rx="23.3" ry="1.3" transform="rotate(25.2 506.5 688.8)" fill="#e4e9b0" opacity="0.55" filter="url(#b8)"/>
<ellipse cx="621.3" cy="596.8" rx="18.6" ry="2.6" transform="rotate(36.8 621.3 596.8)" fill="#70743a" opacity="0.28" filter="url(#b10)"/>
<ellipse cx="621.3" cy="596.8" rx="17.6" ry="1.3" transform="rotate(36.8 621.3 596.8)" fill="#e4e9b0" opacity="0.55" filter="url(#b8)"/>
<ellipse cx="581.5" cy="599.2" rx="20.5" ry="2.6" transform="rotate(32.7 581.5 599.2)" fill="#70743a" opacity="0.28" filter="url(#b10)"/>
<ellipse cx="581.5" cy="599.2" rx="19.5" ry="1.3" transform="rotate(32.7 581.5 599.2)" fill="#e4e9b0" opacity="0.55" filter="url(#b8)"/>
<ellipse cx="612.0" cy="642.6" rx="11.5" ry="2.6" transform="rotate(-26.7 612.0 642.6)" fill="#70743a" opacity="0.28" filter="url(#b10)"/>
<ellipse cx="612.0" cy="642.6" rx="10.5" ry="1.3" transform="rotate(-26.7 612.0 642.6)" fill="#e4e9b0" opacity="0.55" filter="url(#b8)"/>
<ellipse cx="640.0" cy="623.9" rx="24.9" ry="2.6" transform="rotate(11.2 640.0 623.9)" fill="#70743a" opacity="0.28" filter="url(#b10)"/>
<ellipse cx="640.0" cy="623.9" rx="23.9" ry="1.3" transform="rotate(11.2 640.0 623.9)" fill="#e4e9b0" opacity="0.55" filter="url(#b8)"/>
<ellipse cx="671.7" cy="611.0" rx="7.8" ry="2.6" transform="rotate(59.1 671.7 611.0)" fill="#70743a" opacity="0.28" filter="url(#b10)"/>
<ellipse cx="671.7" cy="611.0" rx="6.8" ry="1.3" transform="rotate(59.1 671.7 611.0)" fill="#e4e9b0" opacity="0.55" filter="url(#b8)"/>
<ellipse cx="699.8" cy="669.0" rx="14.5" ry="2.6" transform="rotate(-17.6 699.8 669.0)" fill="#70743a" opacity="0.28" filter="url(#b10)"/>
<ellipse cx="699.8" cy="669.0" rx="13.5" ry="1.3" transform="rotate(-17.6 699.8 669.0)" fill="#e4e9b0" opacity="0.55" filter="url(#b8)"/>
<ellipse cx="569.7" cy="697.7" rx="20.5" ry="2.6" transform="rotate(32.8 569.7 697.7)" fill="#70743a" opacity="0.28" filter="url(#b10)"/>
<ellipse cx="569.7" cy="697.7" rx="19.5" ry="1.3" transform="rotate(32.8 569.7 697.7)" fill="#e4e9b0" opacity="0.55" filter="url(#b8)"/>
<ellipse cx="615.5" cy="703.5" rx="13.2" ry="2.6" transform="rotate(73.1 615.5 703.5)" fill="#70743a" opacity="0.28" filter="url(#b10)"/>
<ellipse cx="615.5" cy="703.5" rx="12.2" ry="1.3" transform="rotate(73.1 615.5 703.5)" fill="#e4e9b0" opacity="0.55" filter="url(#b8)"/>
<ellipse cx="513.0" cy="664.0" rx="8.3" ry="2.6" transform="rotate(15.9 513.0 664.0)" fill="#70743a" opacity="0.28" filter="url(#b10)"/>
<ellipse cx="513.0" cy="664.0" rx="7.3" ry="1.3" transform="rotate(15.9 513.0 664.0)" fill="#e4e9b0" opacity="0.55" filter="url(#b8)"/>
<ellipse cx="550.0" cy="666.0" rx="12.7" ry="2.6" transform="rotate(31.0 550.0 666.0)" fill="#70743a" opacity="0.28" filter="url(#b10)"/>
<ellipse cx="550.0" cy="666.0" rx="11.7" ry="1.3" transform="rotate(31.0 550.0 666.0)" fill="#e4e9b0" opacity="0.55" filter="url(#b8)"/>
<ellipse cx="672.0" cy="707.5" rx="9.4" ry="2.6" transform="rotate(17.4 672.0 707.5)" fill="#70743a" opacity="0.28" filter="url(#b10)"/>
<ellipse cx="672.0" cy="707.5" rx="8.4" ry="1.3" transform="rotate(17.4 672.0 707.5)" fill="#e4e9b0" opacity="0.55" filter="url(#b8)"/>
<ellipse cx="485.4" cy="609.8" rx="5.7" ry="4.8" transform="rotate(0 485.4 609.8)" fill="#6ab59c" fill-opacity="0.33" stroke="#3a9478" stroke-width="1.1" stroke-opacity="0.50" filter="url(#b8)"/>
<ellipse cx="555.7" cy="619.2" rx="4.8" ry="4.3" transform="rotate(-30 555.7 619.2)" fill="#4aa98a" fill-opacity="0.60" stroke="#1a8a62" stroke-width="1.4" stroke-opacity="0.90" filter="url(#b8)"/>
<ellipse cx="555.7" cy="619.2" rx="2.8" ry="2.5" transform="rotate(-30 555.7 619.2)" fill="#13875c" opacity="0.55" filter="url(#b8)"/>
<ellipse cx="520.5" cy="632.0" rx="6.6" ry="3.8" transform="rotate(-20 520.5 632.0)" fill="#4aa98a" fill-opacity="0.45" stroke="#3a9478" stroke-width="1.4" stroke-opacity="0.68" filter="url(#b8)"/>
<ellipse cx="595.5" cy="666.0" rx="5.7" ry="4.8" transform="rotate(-20 595.5 666.0)" fill="#4aa98a" fill-opacity="0.45" stroke="#3a9478" stroke-width="1.4" stroke-opacity="0.68" filter="url(#b8)"/>
<ellipse cx="626.0" cy="696.5" rx="5.7" ry="3.8" transform="rotate(0 626.0 696.5)" fill="#4aa98a" fill-opacity="0.42" stroke="#3a9478" stroke-width="1.4" stroke-opacity="0.63" filter="url(#b8)"/>
<ellipse cx="668.2" cy="626.2" rx="3.8" ry="2.8" transform="rotate(0 668.2 626.2)" fill="#6ab59c" fill-opacity="0.27" stroke="#3a9478" stroke-width="1.1" stroke-opacity="0.41" filter="url(#b8)"/>
<ellipse cx="679.9" cy="695.3" rx="2.8" ry="2.8" transform="rotate(0 679.9 695.3)" fill="#6ab59c" fill-opacity="0.36" stroke="#3a9478" stroke-width="1.1" stroke-opacity="0.54" filter="url(#b8)"/>
<ellipse cx="567.4" cy="698.8" rx="4.8" ry="2.8" transform="rotate(30 567.4 698.8)" fill="#6ab59c" fill-opacity="0.27" stroke="#3a9478" stroke-width="1.1" stroke-opacity="0.41" filter="url(#b8)"/>
<ellipse cx="581.5" cy="711.7" rx="3.8" ry="2.8" transform="rotate(0 581.5 711.7)" fill="#6ab59c" fill-opacity="0.36" stroke="#3a9478" stroke-width="1.1" stroke-opacity="0.54" filter="url(#b8)"/>
<ellipse cx="539.3" cy="713.6" rx="3.8" ry="2.4" transform="rotate(0 539.3 713.6)" fill="#6ab59c" fill-opacity="0.36" stroke="#3a9478" stroke-width="1.1" stroke-opacity="0.54" filter="url(#b8)"/>
<ellipse cx="644.7" cy="585.6" rx="3.8" ry="1.9" transform="rotate(0 644.7 585.6)" fill="#6ab59c" fill-opacity="0.30" stroke="#3a9478" stroke-width="1.1" stroke-opacity="0.45" filter="url(#b8)"/>
</g>
<clipPath id="ci2"><rect x="776.8" y="584.2" width="237.9" height="132.2"/></clipPath>
<g clip-path="url(#ci2)">
<rect x="776.8" y="584.2" width="237.9" height="132.2" fill="#d4d1a2"/>
<radialGradient id="sh2_0"><stop offset="0" stop-color="#9a8f70" stop-opacity="0.50"/><stop offset="0.45" stop-color="#9a8f70" stop-opacity="0.38"/><stop offset="1" stop-color="#9a8f70" stop-opacity="0"/></radialGradient>
<ellipse cx="790.0" cy="621.5" rx="8.0" ry="8.0" fill="url(#sh2_0)"/>
<radialGradient id="sh2_1"><stop offset="0" stop-color="#e0ddb4" stop-opacity="0.35"/><stop offset="0.45" stop-color="#e0ddb4" stop-opacity="0.26"/><stop offset="1" stop-color="#e0ddb4" stop-opacity="0"/></radialGradient>
<ellipse cx="960.0" cy="650.0" rx="80.0" ry="64.0" fill="url(#sh2_1)"/>
<rect x="776.8" y="584.2" width="237.9" height="132.2" filter="url(#texL2)" opacity="0.07"/>
<rect x="776.8" y="584.2" width="237.9" height="132.2" filter="url(#texD2)" opacity="0.05"/>
<path d="M816.9,659.5 Q811.4,665.1 807.2,671.8 M856.1,664.2 Q868.2,666.1 880.4,667.5 M934.8,641.3 Q924.9,653.6 913.7,664.5 M839.1,588.8 Q830.0,600.6 822.4,613.5 M882.7,642.0 Q884.7,650.7 881.1,658.8 M915.0,658.2 Q926.8,665.2 934.1,676.9 M864.2,666.8 Q856.4,675.5 847.9,683.4 M865.4,699.4 Q871.2,704.7 877.8,708.9 M924.8,629.5 Q925.7,641.7 929.3,653.3 M987.0,680.3 Q984.7,693.6 989.5,706.2 M891.6,653.9 Q883.9,667.4 874.7,680.0 M959.6,648.7 Q953.3,663.5 947.5,678.4 M1018.7,651.9 Q1007.8,650.5 998.3,656.0 M832.1,588.2 Q818.1,594.6 803.3,599.3 M824.6,664.5 Q837.7,674.4 850.2,684.8 M924.9,608.8 Q934.5,613.2 944.0,618.0 M822.3,590.2 Q832.9,592.1 840.7,599.5 M818.9,632.3 Q813.1,639.9 806.4,646.6 M841.1,602.4 Q836.4,610.7 828.3,615.7 M885.7,675.8 Q884.8,691.2 889.3,705.9 M923.6,610.6 Q928.4,616.2 935.7,617.8 M885.6,690.7 Q869.6,695.2 853.4,699.1 M782.4,613.2 Q777.2,620.0 774.8,628.2 M1003.0,662.4 Q996.2,677.5 989.1,692.4 M985.4,609.4 Q973.7,618.5 966.3,631.4 M776.3,602.0 Q791.3,608.8 806.0,616.2 M935.5,645.7 Q920.1,649.2 904.4,650.1 M801.0,697.4 Q810.8,703.0 816.6,712.8 M780.6,652.3 Q775.6,660.6 777.3,670.2 M896.9,705.6 Q890.6,708.8 887.1,714.9" stroke="#ffffff" stroke-width="1.6" opacity="0.13" fill="none" filter="url(#b6)"/>
<path d="M817.9,660.2 Q812.3,665.8 808.1,672.6 M856.3,663.0 Q868.4,664.9 880.5,666.3 M935.7,642.1 Q925.8,654.4 914.5,665.3 M840.1,589.5 Q831.0,601.3 823.4,614.1 M883.9,642.1 Q885.9,650.8 882.3,659.0 M915.8,657.3 Q927.7,664.3 935.0,676.0 M865.0,667.7 Q857.3,676.3 848.7,684.2 M866.1,698.5 Q871.9,703.8 878.5,708.0 M925.9,629.3 Q926.9,641.4 930.4,653.1 M988.2,680.2 Q985.9,693.5 990.7,706.1 M892.7,654.5 Q884.9,668.1 875.7,680.6 M960.7,649.1 Q954.4,663.9 948.6,678.9 M1018.9,653.1 Q1008.1,651.6 998.6,657.2 M832.6,589.3 Q818.5,595.8 803.8,600.5 M825.3,663.6 Q838.4,673.4 851.0,683.9 M925.5,607.7 Q935.0,612.2 944.5,616.9 M822.9,589.1 Q833.4,591.1 841.2,598.5 M819.8,633.1 Q814.0,640.7 807.3,647.4 M841.9,603.2 Q837.3,611.5 829.1,616.6 M886.9,675.7 Q886.0,691.0 890.5,705.7 M924.2,609.6 Q929.0,615.2 936.3,616.7 M885.9,691.9 Q869.9,696.3 853.7,700.2 M783.5,613.8 Q778.2,620.5 775.9,628.8 M1004.1,662.9 Q997.3,678.0 990.2,692.9 M986.3,610.2 Q974.6,619.3 967.2,632.2 M776.9,600.9 Q791.9,607.7 806.5,615.1 M935.6,646.9 Q920.3,650.4 904.6,651.3 M801.8,696.5 Q811.6,702.2 817.4,712.0 M781.7,652.5 Q776.8,660.8 778.5,670.4 M897.7,706.5 Q891.5,709.6 888.0,715.8" stroke="#5a5a30" stroke-width="0.8" opacity="0.10" fill="none" filter="url(#b5)"/>
<ellipse cx="785.4" cy="641.4" rx="7.6" ry="2.4" transform="rotate(5 785.4 641.4)" fill="#4aa98a" fill-opacity="0.48" stroke="#3a9478" stroke-width="1.4" stroke-opacity="0.72" filter="url(#b8)"/>
<ellipse cx="801.8" cy="636.7" rx="7.6" ry="2.8" transform="rotate(10 801.8 636.7)" fill="#4aa98a" fill-opacity="0.45" stroke="#3a9478" stroke-width="1.4" stroke-opacity="0.68" filter="url(#b8)"/>
<ellipse cx="835.8" cy="642.6" rx="3.8" ry="3.8" transform="rotate(0 835.8 642.6)" fill="#4aa98a" fill-opacity="0.48" stroke="#3a9478" stroke-width="1.4" stroke-opacity="0.72" filter="url(#b8)"/>
<ellipse cx="835.8" cy="615.6" rx="3.8" ry="2.8" transform="rotate(0 835.8 615.6)" fill="#6ab59c" fill-opacity="0.27" stroke="#3a9478" stroke-width="1.1" stroke-opacity="0.41" filter="url(#b8)"/>
<ellipse cx="862.7" cy="650.8" rx="3.8" ry="3.8" transform="rotate(0 862.7 650.8)" fill="#4aa98a" fill-opacity="0.45" stroke="#3a9478" stroke-width="1.4" stroke-opacity="0.68" filter="url(#b8)"/>
<ellipse cx="861.5" cy="661.3" rx="3.8" ry="3.8" transform="rotate(30 861.5 661.3)" fill="#4aa98a" fill-opacity="0.45" stroke="#3a9478" stroke-width="1.4" stroke-opacity="0.68" filter="url(#b8)"/>
<ellipse cx="874.4" cy="640.2" rx="3.8" ry="3.8" transform="rotate(0 874.4 640.2)" fill="#6ab59c" fill-opacity="0.27" stroke="#3a9478" stroke-width="1.1" stroke-opacity="0.41" filter="url(#b8)"/>
<ellipse cx="873.3" cy="625.0" rx="4.8" ry="2.4" transform="rotate(30 873.3 625.0)" fill="#6ab59c" fill-opacity="0.36" stroke="#3a9478" stroke-width="1.1" stroke-opacity="0.54" filter="url(#b8)"/>
<ellipse cx="879.1" cy="654.3" rx="3.8" ry="2.8" transform="rotate(0 879.1 654.3)" fill="#6ab59c" fill-opacity="0.24" stroke="#3a9478" stroke-width="1.1" stroke-opacity="0.36" filter="url(#b8)"/>
<ellipse cx="846.3" cy="670.7" rx="3.8" ry="2.8" transform="rotate(0 846.3 670.7)" fill="#6ab59c" fill-opacity="0.24" stroke="#3a9478" stroke-width="1.1" stroke-opacity="0.36" filter="url(#b8)"/>
<ellipse cx="826.4" cy="666.0" rx="3.8" ry="2.8" transform="rotate(0 826.4 666.0)" fill="#6ab59c" fill-opacity="0.21" stroke="#3a9478" stroke-width="1.1" stroke-opacity="0.32" filter="url(#b8)"/>
<ellipse cx="903.7" cy="676.6" rx="6.6" ry="2.8" transform="rotate(20 903.7 676.6)" fill="#4aa98a" fill-opacity="0.51" stroke="#1a8a62" stroke-width="1.4" stroke-opacity="0.77" filter="url(#b8)"/>
<ellipse cx="903.7" cy="676.6" rx="3.9" ry="1.7" transform="rotate(20 903.7 676.6)" fill="#13875c" opacity="0.22" filter="url(#b8)"/>
<ellipse cx="886.1" cy="687.1" rx="3.8" ry="3.8" transform="rotate(-30 886.1 687.1)" fill="#4aa98a" fill-opacity="0.45" stroke="#3a9478" stroke-width="1.4" stroke-opacity="0.68" filter="url(#b8)"/>
<ellipse cx="903.7" cy="689.5" rx="3.8" ry="2.8" transform="rotate(0 903.7 689.5)" fill="#6ab59c" fill-opacity="0.24" stroke="#3a9478" stroke-width="1.1" stroke-opacity="0.36" filter="url(#b8)"/>
<ellipse cx="845.1" cy="694.2" rx="3.8" ry="2.8" transform="rotate(30 845.1 694.2)" fill="#4aa98a" fill-opacity="0.42" stroke="#3a9478" stroke-width="1.4" stroke-opacity="0.63" filter="url(#b8)"/>
<ellipse cx="907.2" cy="711.7" rx="3.8" ry="2.8" transform="rotate(0 907.2 711.7)" fill="#6ab59c" fill-opacity="0.36" stroke="#3a9478" stroke-width="1.1" stroke-opacity="0.54" filter="url(#b8)"/>
<ellipse cx="930.7" cy="594.5" rx="3.8" ry="2.8" transform="rotate(-30 930.7 594.5)" fill="#4aa98a" fill-opacity="0.45" stroke="#3a9478" stroke-width="1.4" stroke-opacity="0.68" filter="url(#b8)"/>
<ellipse cx="945.9" cy="591.0" rx="2.8" ry="2.4" transform="rotate(0 945.9 591.0)" fill="#4aa98a" fill-opacity="0.42" stroke="#3a9478" stroke-width="1.4" stroke-opacity="0.63" filter="url(#b8)"/>
<ellipse cx="951.8" cy="607.4" rx="4.8" ry="4.8" transform="rotate(-30 951.8 607.4)" fill="#4aa98a" fill-opacity="0.48" stroke="#3a9478" stroke-width="1.4" stroke-opacity="0.72" filter="url(#b8)"/>
<ellipse cx="992.8" cy="611.0" rx="5.7" ry="3.8" transform="rotate(0 992.8 611.0)" fill="#4aa98a" fill-opacity="0.45" stroke="#3a9478" stroke-width="1.4" stroke-opacity="0.68" filter="url(#b8)"/>
<ellipse cx="992.8" cy="626.2" rx="4.8" ry="4.8" transform="rotate(0 992.8 626.2)" fill="#4aa98a" fill-opacity="0.42" stroke="#3a9478" stroke-width="1.4" stroke-opacity="0.63" filter="url(#b8)"/>
<ellipse cx="976.4" cy="640.2" rx="6.6" ry="2.4" transform="rotate(0 976.4 640.2)" fill="#6ab59c" fill-opacity="0.33" stroke="#3a9478" stroke-width="1.1" stroke-opacity="0.50" filter="url(#b8)"/>
<ellipse cx="919.0" cy="641.4" rx="3.8" ry="2.8" transform="rotate(0 919.0 641.4)" fill="#6ab59c" fill-opacity="0.24" stroke="#3a9478" stroke-width="1.1" stroke-opacity="0.36" filter="url(#b8)"/>
<ellipse cx="984.6" cy="656.7" rx="6.6" ry="4.8" transform="rotate(0 984.6 656.7)" fill="#4aa98a" fill-opacity="0.51" stroke="#1a8a62" stroke-width="1.4" stroke-opacity="0.77" filter="url(#b8)"/>
<ellipse cx="984.6" cy="656.7" rx="3.9" ry="2.8" transform="rotate(0 984.6 656.7)" fill="#13875c" opacity="0.22" filter="url(#b8)"/>
<ellipse cx="994.0" cy="672.6" rx="2.4" ry="2.4" transform="rotate(0 994.0 672.6)" fill="#4aa98a" fill-opacity="0.60" stroke="#1a8a62" stroke-width="1.4" stroke-opacity="0.90" filter="url(#b8)"/>
<ellipse cx="994.0" cy="672.6" rx="1.4" ry="1.4" transform="rotate(0 994.0 672.6)" fill="#13875c" opacity="0.55" filter="url(#b8)"/>
<ellipse cx="940.0" cy="675.4" rx="5.7" ry="3.3" transform="rotate(10 940.0 675.4)" fill="#6ab59c" fill-opacity="0.33" stroke="#3a9478" stroke-width="1.1" stroke-opacity="0.50" filter="url(#b8)"/>
<ellipse cx="954.1" cy="680.1" rx="4.8" ry="2.8" transform="rotate(-10 954.1 680.1)" fill="#6ab59c" fill-opacity="0.36" stroke="#3a9478" stroke-width="1.1" stroke-opacity="0.54" filter="url(#b8)"/>
<ellipse cx="1008.0" cy="682.4" rx="2.8" ry="3.8" transform="rotate(0 1008.0 682.4)" fill="#6ab59c" fill-opacity="0.36" stroke="#3a9478" stroke-width="1.1" stroke-opacity="0.54" filter="url(#b8)"/>
<ellipse cx="1006.8" cy="701.2" rx="2.8" ry="3.8" transform="rotate(0 1006.8 701.2)" fill="#6ab59c" fill-opacity="0.30" stroke="#3a9478" stroke-width="1.1" stroke-opacity="0.45" filter="url(#b8)"/>
<ellipse cx="968.2" cy="594.5" rx="2.8" ry="2.8" transform="rotate(0 968.2 594.5)" fill="#6ab59c" fill-opacity="0.24" stroke="#3a9478" stroke-width="1.1" stroke-opacity="0.36" filter="url(#b8)"/>
<ellipse cx="1005.7" cy="605.1" rx="2.8" ry="2.8" transform="rotate(0 1005.7 605.1)" fill="#6ab59c" fill-opacity="0.30" stroke="#3a9478" stroke-width="1.1" stroke-opacity="0.45" filter="url(#b8)"/>
<ellipse cx="900.2" cy="652.0" rx="3.8" ry="2.8" transform="rotate(0 900.2 652.0)" fill="#6ab59c" fill-opacity="0.21" stroke="#3a9478" stroke-width="1.1" stroke-opacity="0.32" filter="url(#b8)"/>
<ellipse cx="937.7" cy="654.3" rx="3.8" ry="2.8" transform="rotate(0 937.7 654.3)" fill="#6ab59c" fill-opacity="0.21" stroke="#3a9478" stroke-width="1.1" stroke-opacity="0.32" filter="url(#b8)"/>
<ellipse cx="956.5" cy="708.2" rx="3.8" ry="2.8" transform="rotate(0 956.5 708.2)" fill="#6ab59c" fill-opacity="0.21" stroke="#3a9478" stroke-width="1.1" stroke-opacity="0.32" filter="url(#b8)"/>
</g>
<clipPath id="ci3"><rect x="196.8" y="759.3" width="238.1" height="138.8"/></clipPath>
<g clip-path="url(#ci3)">
<rect x="196.8" y="759.3" width="238.1" height="138.8" fill="#dde0c8"/>
<rect x="196.8" y="759.3" width="238.1" height="138.8" filter="url(#texL0)" opacity="0.10"/>
<rect x="196.8" y="759.3" width="238.1" height="138.8" filter="url(#texD0)" opacity="0.05"/>
<path d="M439.3,812.3 Q431.6,824.2 420.6,832.9 M212.7,836.1 Q212.5,844.1 218.0,849.8 M399.2,771.3 Q402.8,777.8 409.7,780.2 M196.1,787.8 Q202.6,790.7 209.3,793.4 M249.5,805.4 Q241.0,816.6 231.4,826.9 M373.3,828.1 Q384.7,838.0 394.7,849.4 M334.0,877.8 Q337.0,890.4 336.0,903.4 M279.6,783.4 Q262.7,786.3 248.0,795.1 M322.1,848.4 Q325.5,857.5 323.2,866.9 M303.7,792.6 Q297.6,797.5 290.0,796.2 M390.0,849.4 Q386.4,856.6 390.7,863.4 M440.6,826.0 Q433.1,838.5 422.9,849.0 M336.4,836.6 Q328.0,842.5 319.0,847.7 M364.5,766.8 Q375.1,769.4 386.0,769.8 M409.2,823.4 Q406.6,835.5 400.0,846.1 M283.9,827.4 Q288.9,839.5 293.6,851.8 M268.6,824.7 Q274.3,837.0 282.5,847.8 M389.5,819.9 Q396.2,835.6 408.4,847.6 M225.2,808.2 Q240.0,810.7 255.0,811.3 M398.0,878.4 Q405.4,889.7 410.6,902.3 M353.0,766.3 Q346.7,767.6 341.2,770.9 M244.0,815.1 Q236.3,820.4 227.2,822.5 M362.6,855.8 Q369.2,862.7 376.0,869.3 M299.6,836.0 Q292.4,842.3 284.3,847.5 M237.8,853.5 Q228.9,866.6 220.7,880.2 M404.1,882.8 Q408.2,888.8 404.6,895.0 M282.1,783.5 Q273.8,791.3 270.4,802.3 M272.1,750.2 Q258.6,760.6 245.7,771.7 M225.1,750.4 Q220.7,766.3 222.1,782.8 M373.0,852.9 Q384.8,862.1 393.8,874.2 M310.7,855.7 Q299.6,865.4 289.4,876.0 M316.5,774.5 Q310.2,786.2 304.1,798.1 M354.4,889.8 Q370.4,893.6 385.3,900.6 M351.7,853.1 Q342.8,855.3 333.8,857.0 M370.0,765.9 Q378.8,768.9 388.0,767.2 M314.4,880.7 Q322.0,891.0 327.7,902.4 M289.3,780.4 Q287.4,787.5 282.8,793.2 M303.1,848.9 Q306.2,857.5 306.5,866.6 M271.8,845.0 Q276.9,850.8 276.2,858.5 M355.4,784.1 Q355.0,800.7 357.2,817.2 M327.4,860.7 Q324.9,874.7 315.6,885.5 M241.1,862.7 Q230.5,862.4 220.1,864.3 M400.7,848.1 Q389.7,861.1 384.9,877.3 M293.1,791.3 Q295.9,798.6 303.2,801.6 M352.7,759.1 Q353.1,765.4 354.3,771.6" stroke="#ffffff" stroke-width="1.6" opacity="0.13" fill="none" filter="url(#b6)"/>
<path d="M440.2,813.2 Q432.5,825.0 421.4,833.7 M213.8,835.7 Q213.6,843.7 219.2,849.4 M399.9,770.4 Q403.5,776.9 410.5,779.3 M196.5,786.6 Q203.1,789.6 209.8,792.3 M250.5,806.2 Q241.9,817.3 232.3,827.7 M374.1,827.3 Q385.6,837.2 395.5,848.5 M335.2,877.7 Q338.2,890.3 337.2,903.3 M280.0,784.5 Q263.1,787.4 248.4,796.3 M323.3,848.3 Q326.7,857.4 324.4,866.8 M304.0,793.8 Q297.9,798.7 290.3,797.3 M391.2,849.4 Q387.6,856.5 391.9,863.3 M441.6,826.7 Q434.0,839.2 423.9,849.7 M337.1,837.6 Q328.6,843.5 319.7,848.7 M364.6,765.6 Q375.3,768.3 386.2,768.6 M410.3,823.9 Q407.7,836.0 401.1,846.5 M285.1,827.0 Q290.1,839.1 294.7,851.3 M269.7,824.1 Q275.3,836.4 283.5,847.1 M390.5,819.2 Q397.2,835.0 409.4,846.9 M225.3,807.0 Q240.1,809.5 255.1,810.1 M399.0,877.8 Q406.5,889.1 411.6,901.7 M353.4,767.4 Q347.1,768.7 341.6,772.0 M244.5,816.2 Q236.7,821.5 227.6,823.6 M363.5,854.9 Q370.0,861.8 376.8,868.5 M300.4,836.9 Q293.1,843.2 285.0,848.5 M238.8,854.1 Q229.9,867.3 221.7,880.8 M405.3,882.8 Q409.4,888.7 405.8,895.0 M283.1,784.1 Q274.8,792.0 271.4,802.9 M272.8,751.1 Q259.4,761.5 246.5,772.6 M226.3,750.5 Q221.9,766.4 223.3,782.9 M373.9,852.1 Q385.7,861.3 394.6,873.3 M311.6,856.5 Q300.5,866.3 290.2,876.9 M317.6,775.0 Q311.3,786.8 305.2,798.6 M354.8,888.7 Q370.8,892.5 385.7,899.5 M351.9,854.2 Q343.1,856.5 334.1,858.2 M370.0,764.7 Q378.9,767.7 388.1,766.0 M315.5,880.1 Q323.1,890.3 328.7,901.7 M290.4,780.9 Q288.5,788.0 283.9,793.7 M304.3,848.7 Q307.4,857.2 307.7,866.4 M272.9,844.7 Q278.1,850.4 277.3,858.1 M356.6,784.0 Q356.2,800.7 358.4,817.2 M328.5,861.2 Q326.0,875.2 316.7,886.0 M241.2,863.9 Q230.6,863.6 220.2,865.5 M401.8,848.7 Q390.8,861.6 386.0,877.9 M294.0,790.4 Q296.8,797.8 304.1,800.7 M353.9,758.9 Q354.3,765.2 355.5,771.4" stroke="#5a5a30" stroke-width="0.8" opacity="0.10" fill="none" filter="url(#b5)"/>
</g>
<clipPath id="ci4"><rect x="477.0" y="758.6" width="237.9" height="139.4"/></clipPath>
<g clip-path="url(#ci4)">
<rect x="477.0" y="758.6" width="237.9" height="139.4" fill="#d8df9d"/>
<rect x="477.0" y="758.6" width="237.9" height="139.4" filter="url(#texL1)" opacity="0.07"/>
<rect x="477.0" y="758.6" width="237.9" height="139.4" filter="url(#texD1)" opacity="0.05"/>
<path d="M694.8,870.9 Q706.3,879.1 716.0,889.4 M641.5,868.0 Q645.2,873.8 652.2,874.1 M509.3,841.3 Q502.5,848.7 500.9,858.6 M618.9,804.3 Q614.4,812.7 611.8,822.0 M566.2,815.0 Q576.3,821.8 582.6,832.2 M622.5,765.2 Q610.7,770.4 602.0,779.9 M529.7,802.0 Q533.5,818.2 544.4,830.8 M527.8,870.2 Q522.5,874.6 521.3,881.4 M623.3,846.6 Q607.3,849.4 591.2,847.0 M592.2,759.7 Q602.5,761.7 610.5,768.6 M618.0,770.1 Q625.6,772.9 633.3,770.6 M543.1,758.7 Q534.2,768.0 526.9,778.6 M599.4,821.6 Q605.0,834.7 615.0,844.6 M655.9,870.6 Q642.0,878.1 628.2,885.9 M588.9,859.8 Q601.0,864.2 613.6,862.0 M513.9,823.0 Q524.2,826.7 534.9,829.3 M610.2,861.5 Q617.0,872.2 624.7,882.4 M689.9,846.8 Q705.1,848.9 720.5,847.9 M519.1,776.2 Q529.0,778.5 535.4,786.4 M534.3,785.6 Q529.2,793.4 520.2,795.9 M515.9,758.6 Q524.5,766.4 533.3,773.8 M522.5,783.5 Q532.9,789.0 544.6,788.5 M622.7,811.7 Q610.8,813.7 599.0,815.7 M578.5,782.2 Q570.2,788.1 563.1,795.5 M539.3,877.1 Q540.6,884.8 545.9,890.6 M695.9,816.6 Q695.3,822.7 693.6,828.6 M468.4,805.4 Q484.3,804.7 499.6,809.1 M521.9,862.0 Q515.6,869.0 511.6,877.7 M485.8,815.3 Q479.9,819.7 474.0,824.0 M550.0,868.7 Q565.3,868.7 579.4,875.1" stroke="#ffffff" stroke-width="1.6" opacity="0.13" fill="none" filter="url(#b6)"/>
<path d="M695.6,870.0 Q707.0,878.2 716.8,888.4 M642.1,866.9 Q645.8,872.8 652.8,873.1 M510.4,841.8 Q503.6,849.2 501.9,859.1 M620.0,804.7 Q615.5,813.2 612.9,822.4 M567.1,814.2 Q577.2,821.0 583.5,831.4 M623.2,766.2 Q611.4,771.4 602.7,780.9 M530.7,801.5 Q534.6,817.7 545.4,830.3 M528.9,870.8 Q523.5,875.2 522.4,882.0 M623.3,847.8 Q607.3,850.6 591.2,848.2 M592.7,758.6 Q603.1,760.6 611.0,767.6 M618.0,768.9 Q625.6,771.7 633.4,769.4 M544.0,759.5 Q535.1,768.8 527.8,779.4 M600.4,820.9 Q606.0,834.0 616.0,844.0 M656.5,871.7 Q642.6,879.1 628.8,886.9 M589.0,858.6 Q601.1,863.0 613.7,860.8 M514.2,821.8 Q524.5,825.6 535.2,828.2 M611.2,860.8 Q618.0,871.6 625.7,881.7 M690.0,845.6 Q705.2,847.7 720.5,846.7 M519.7,775.2 Q529.6,777.5 536.1,785.4 M535.0,786.5 Q529.9,794.4 520.9,796.9 M516.7,757.7 Q525.2,765.5 534.1,772.9 M522.7,782.3 Q533.1,787.8 544.9,787.4 M622.9,812.9 Q611.0,814.9 599.1,816.9 M579.3,783.1 Q571.0,789.1 563.8,796.4 M540.4,876.6 Q541.7,884.3 546.9,890.0 M697.1,816.8 Q696.5,822.9 694.7,828.8 M468.5,804.2 Q484.4,803.5 499.7,807.9 M522.9,862.6 Q516.6,869.7 512.6,878.3 M486.5,816.3 Q480.6,820.7 474.7,824.9 M550.2,867.5 Q565.6,867.5 579.6,873.9" stroke="#5a5a30" stroke-width="0.8" opacity="0.10" fill="none" filter="url(#b5)"/>
<ellipse cx="513.5" cy="821.3" rx="6.2" ry="4.3" transform="rotate(10 513.5 821.3)" fill="#4aa98a" fill-opacity="0.60" stroke="#1a8a62" stroke-width="1.4" stroke-opacity="0.90" filter="url(#b8)"/>
<ellipse cx="513.5" cy="821.3" rx="3.6" ry="2.5" transform="rotate(10 513.5 821.3)" fill="#13875c" opacity="0.55" filter="url(#b8)"/>
<ellipse cx="517.0" cy="807.2" rx="4.8" ry="2.4" transform="rotate(0 517.0 807.2)" fill="#4aa98a" fill-opacity="0.51" stroke="#1a8a62" stroke-width="1.4" stroke-opacity="0.77" filter="url(#b8)"/>
<ellipse cx="517.0" cy="807.2" rx="2.8" ry="1.4" transform="rotate(0 517.0 807.2)" fill="#13875c" opacity="0.22" filter="url(#b8)"/>
<ellipse cx="602.6" cy="781.4" rx="4.8" ry="2.8" transform="rotate(20 602.6 781.4)" fill="#4aa98a" fill-opacity="0.54" stroke="#1a8a62" stroke-width="1.4" stroke-opacity="0.81" filter="url(#b8)"/>
<ellipse cx="602.6" cy="781.4" rx="2.8" ry="1.7" transform="rotate(20 602.6 781.4)" fill="#13875c" opacity="0.33" filter="url(#b8)"/>
<ellipse cx="573.3" cy="781.4" rx="4.8" ry="2.4" transform="rotate(0 573.3 781.4)" fill="#6ab59c" fill-opacity="0.30" stroke="#3a9478" stroke-width="1.1" stroke-opacity="0.45" filter="url(#b8)"/>
<ellipse cx="567.4" cy="793.2" rx="4.8" ry="2.1" transform="rotate(0 567.4 793.2)" fill="#4aa98a" fill-opacity="0.48" stroke="#3a9478" stroke-width="1.4" stroke-opacity="0.72" filter="url(#b8)"/>
<ellipse cx="630.7" cy="766.9" rx="2.8" ry="2.4" transform="rotate(0 630.7 766.9)" fill="#4aa98a" fill-opacity="0.48" stroke="#3a9478" stroke-width="1.4" stroke-opacity="0.72" filter="url(#b8)"/>
<ellipse cx="587.3" cy="817.8" rx="2.4" ry="4.8" transform="rotate(0 587.3 817.8)" fill="#4aa98a" fill-opacity="0.51" stroke="#1a8a62" stroke-width="1.4" stroke-opacity="0.77" filter="url(#b8)"/>
<ellipse cx="587.3" cy="817.8" rx="1.4" ry="2.8" transform="rotate(0 587.3 817.8)" fill="#13875c" opacity="0.22" filter="url(#b8)"/>
<ellipse cx="611.9" cy="835.3" rx="2.4" ry="5.2" transform="rotate(0 611.9 835.3)" fill="#4aa98a" fill-opacity="0.48" stroke="#3a9478" stroke-width="1.4" stroke-opacity="0.72" filter="url(#b8)"/>
<ellipse cx="626.0" cy="852.9" rx="4.8" ry="3.3" transform="rotate(20 626.0 852.9)" fill="#4aa98a" fill-opacity="0.45" stroke="#3a9478" stroke-width="1.4" stroke-opacity="0.68" filter="url(#b8)"/>
<ellipse cx="580.3" cy="852.9" rx="2.8" ry="2.8" transform="rotate(0 580.3 852.9)" fill="#6ab59c" fill-opacity="0.27" stroke="#3a9478" stroke-width="1.1" stroke-opacity="0.41" filter="url(#b8)"/>
<ellipse cx="551.0" cy="866.3" rx="5.7" ry="2.1" transform="rotate(0 551.0 866.3)" fill="#4aa98a" fill-opacity="0.51" stroke="#1a8a62" stroke-width="1.4" stroke-opacity="0.77" filter="url(#b8)"/>
<ellipse cx="551.0" cy="866.3" rx="3.3" ry="1.2" transform="rotate(0 551.0 866.3)" fill="#13875c" opacity="0.22" filter="url(#b8)"/>
<ellipse cx="601.4" cy="865.8" rx="4.8" ry="1.9" transform="rotate(0 601.4 865.8)" fill="#4aa98a" fill-opacity="0.48" stroke="#3a9478" stroke-width="1.4" stroke-opacity="0.72" filter="url(#b8)"/>
<ellipse cx="684.6" cy="790.3" rx="4.8" ry="2.8" transform="rotate(0 684.6 790.3)" fill="#4aa98a" fill-opacity="0.45" stroke="#3a9478" stroke-width="1.4" stroke-opacity="0.68" filter="url(#b8)"/>
<ellipse cx="706.8" cy="807.2" rx="5.7" ry="2.1" transform="rotate(-10 706.8 807.2)" fill="#4aa98a" fill-opacity="0.42" stroke="#3a9478" stroke-width="1.4" stroke-opacity="0.63" filter="url(#b8)"/>
<ellipse cx="702.2" cy="872.4" rx="2.8" ry="2.8" transform="rotate(0 702.2 872.4)" fill="#4aa98a" fill-opacity="0.57" stroke="#1a8a62" stroke-width="1.4" stroke-opacity="0.85" filter="url(#b8)"/>
<ellipse cx="702.2" cy="872.4" rx="1.7" ry="1.7" transform="rotate(0 702.2 872.4)" fill="#13875c" opacity="0.44" filter="url(#b8)"/>
<ellipse cx="616.6" cy="800.2" rx="2.4" ry="4.8" transform="rotate(0 616.6 800.2)" fill="#6ab59c" fill-opacity="0.24" stroke="#3a9478" stroke-width="1.1" stroke-opacity="0.36" filter="url(#b8)"/>
<ellipse cx="499.4" cy="844.7" rx="3.8" ry="2.4" transform="rotate(0 499.4 844.7)" fill="#6ab59c" fill-opacity="0.24" stroke="#3a9478" stroke-width="1.1" stroke-opacity="0.36" filter="url(#b8)"/>
<ellipse cx="602.6" cy="809.6" rx="2.8" ry="2.8" transform="rotate(0 602.6 809.6)" fill="#6ab59c" fill-opacity="0.24" stroke="#3a9478" stroke-width="1.1" stroke-opacity="0.36" filter="url(#b8)"/>
<ellipse cx="698.6" cy="847.0" rx="2.8" ry="2.8" transform="rotate(0 698.6 847.0)" fill="#6ab59c" fill-opacity="0.21" stroke="#3a9478" stroke-width="1.1" stroke-opacity="0.32" filter="url(#b8)"/>
<ellipse cx="626.0" cy="868.1" rx="2.8" ry="2.8" transform="rotate(0 626.0 868.1)" fill="#6ab59c" fill-opacity="0.24" stroke="#3a9478" stroke-width="1.1" stroke-opacity="0.36" filter="url(#b8)"/>
</g>
<clipPath id="ci5"><rect x="776.2" y="758.2" width="240.6" height="138.3"/></clipPath>
<g clip-path="url(#ci5)">
<rect x="776.2" y="758.2" width="240.6" height="138.3" fill="#e2dfae"/>
<radialGradient id="sh5_0"><stop offset="0" stop-color="#f0f0a0" stop-opacity="0.60"/><stop offset="0.45" stop-color="#f0f0a0" stop-opacity="0.45"/><stop offset="1" stop-color="#f0f0a0" stop-opacity="0"/></radialGradient>
<ellipse cx="887.0" cy="814.7" rx="12.8" ry="9.6" fill="url(#sh5_0)"/>
<radialGradient id="sh5_1"><stop offset="0" stop-color="#e8e6b8" stop-opacity="0.30"/><stop offset="0.45" stop-color="#e8e6b8" stop-opacity="0.22"/><stop offset="1" stop-color="#e8e6b8" stop-opacity="0"/></radialGradient>
<ellipse cx="880.0" cy="820.0" rx="96.0" ry="64.0" fill="url(#sh5_1)"/>
<rect x="776.2" y="758.2" width="240.6" height="138.3" filter="url(#texL2)" opacity="0.07"/>
<rect x="776.2" y="758.2" width="240.6" height="138.3" filter="url(#texD2)" opacity="0.05"/>
<path d="M1002.0,804.3 Q987.7,808.0 972.9,808.7 M957.5,797.6 Q959.3,805.4 964.6,811.4 M803.2,844.4 Q812.0,848.9 820.2,854.4 M884.4,818.0 Q869.7,824.0 854.0,825.8 M1027.8,833.8 Q1013.8,842.7 1000.0,851.9 M843.0,871.0 Q839.4,887.9 830.1,902.4 M989.9,862.9 Q974.0,860.2 958.6,865.2 M953.5,800.6 Q951.2,812.4 953.1,824.3 M930.1,861.2 Q923.3,871.4 923.6,883.7 M954.1,881.8 Q967.0,886.4 979.4,892.2 M839.2,792.0 Q846.2,794.4 853.1,797.0 M968.8,862.1 Q968.3,879.1 960.3,894.3 M813.9,753.0 Q820.7,767.1 830.6,779.2 M892.0,825.4 Q887.8,840.6 877.5,852.5 M917.8,794.9 Q930.5,806.0 940.1,819.9 M1003.7,811.3 Q996.1,812.8 992.6,819.6 M887.1,767.7 Q896.4,780.3 902.1,794.9 M778.7,876.9 Q787.1,879.0 794.7,883.2 M947.7,888.3 Q946.4,896.7 941.7,903.8 M995.4,819.0 Q983.4,825.4 971.8,832.2 M894.0,753.1 Q887.8,758.3 885.1,765.9 M927.8,758.5 Q913.9,762.5 902.6,771.5 M952.6,840.9 Q959.0,848.8 960.9,858.8 M919.9,795.2 Q932.3,803.7 942.1,815.0 M809.2,789.3 Q795.1,794.1 784.4,804.5 M779.1,842.1 Q781.5,854.6 790.2,863.8 M937.6,786.6 Q940.6,801.5 943.1,816.4 M896.2,820.5 Q891.8,825.2 885.6,827.3 M872.5,779.9 Q885.3,778.9 896.4,785.3 M835.5,869.4 Q829.3,881.8 818.2,890.1" stroke="#ffffff" stroke-width="1.6" opacity="0.13" fill="none" filter="url(#b6)"/>
<path d="M1002.2,805.4 Q987.9,809.2 973.1,809.9 M958.5,797.0 Q960.3,804.9 965.7,810.9 M803.8,843.3 Q812.6,847.9 820.8,853.3 M884.7,819.1 Q870.0,825.1 854.3,826.9 M1028.4,834.8 Q1014.4,843.7 1000.6,852.9 M844.2,871.5 Q840.5,888.4 831.2,902.9 M990.0,864.1 Q974.1,861.4 958.7,866.4 M954.7,800.6 Q952.4,812.5 954.3,824.3 M931.3,861.6 Q924.5,871.7 924.8,884.0 M954.5,880.7 Q967.4,885.3 979.8,891.1 M839.6,790.9 Q846.6,793.2 853.5,795.9 M970.0,862.4 Q969.5,879.5 961.5,894.6 M814.9,752.3 Q821.7,766.4 831.6,778.6 M893.1,826.0 Q888.8,841.1 878.5,853.0 M918.7,794.1 Q931.4,805.2 941.0,819.1 M1004.4,812.3 Q996.9,813.7 993.3,820.5 M888.2,767.1 Q897.4,779.8 903.1,794.3 M779.2,875.8 Q787.5,877.9 795.1,882.1 M948.8,888.8 Q947.5,897.2 942.8,904.3 M995.9,820.1 Q984.0,826.4 972.3,833.2 M895.0,753.8 Q888.8,759.0 886.1,766.6 M928.4,759.6 Q914.4,763.5 903.1,772.6 M953.7,840.4 Q960.1,848.3 962.0,858.3 M920.7,794.3 Q933.1,802.8 942.9,814.1 M809.9,790.3 Q795.7,795.1 785.0,805.6 M780.2,841.6 Q782.6,854.0 791.3,863.3 M938.8,786.4 Q941.8,801.3 944.2,816.2 M896.9,821.6 Q892.4,826.3 886.3,828.3 M872.8,778.7 Q885.6,777.7 896.7,784.1 M836.4,870.2 Q830.3,882.6 819.1,890.9" stroke="#5a5a30" stroke-width="0.8" opacity="0.10" fill="none" filter="url(#b5)"/>
<ellipse cx="786.6" cy="786.4" rx="4.8" ry="2.4" transform="rotate(0 786.6 786.4)" fill="#4aa98a" fill-opacity="0.45" stroke="#3a9478" stroke-width="1.4" stroke-opacity="0.68" filter="url(#b8)"/>
<ellipse cx="815.0" cy="791.1" rx="2.8" ry="3.3" transform="rotate(0 815.0 791.1)" fill="#4aa98a" fill-opacity="0.42" stroke="#3a9478" stroke-width="1.4" stroke-opacity="0.63" filter="url(#b8)"/>
<ellipse cx="803.2" cy="760.4" rx="2.4" ry="2.8" transform="rotate(0 803.2 760.4)" fill="#6ab59c" fill-opacity="0.36" stroke="#3a9478" stroke-width="1.1" stroke-opacity="0.54" filter="url(#b8)"/>
<ellipse cx="780.7" cy="771.0" rx="2.8" ry="2.8" transform="rotate(0 780.7 771.0)" fill="#6ab59c" fill-opacity="0.30" stroke="#3a9478" stroke-width="1.1" stroke-opacity="0.45" filter="url(#b8)"/>
<ellipse cx="903.6" cy="795.8" rx="3.3" ry="4.8" transform="rotate(-20 903.6 795.8)" fill="#4aa98a" fill-opacity="0.51" stroke="#1a8a62" stroke-width="1.4" stroke-opacity="0.77" filter="url(#b8)"/>
<ellipse cx="903.6" cy="795.8" rx="1.9" ry="2.8" transform="rotate(-20 903.6 795.8)" fill="#13875c" opacity="0.22" filter="url(#b8)"/>
<ellipse cx="891.8" cy="807.6" rx="3.8" ry="2.8" transform="rotate(-20 891.8 807.6)" fill="#4aa98a" fill-opacity="0.45" stroke="#3a9478" stroke-width="1.4" stroke-opacity="0.68" filter="url(#b8)"/>
<ellipse cx="875.3" cy="788.7" rx="3.3" ry="3.3" transform="rotate(0 875.3 788.7)" fill="#6ab59c" fill-opacity="0.36" stroke="#3a9478" stroke-width="1.1" stroke-opacity="0.54" filter="url(#b8)"/>
<ellipse cx="880.0" cy="802.9" rx="2.8" ry="2.8" transform="rotate(0 880.0 802.9)" fill="#6ab59c" fill-opacity="0.30" stroke="#3a9478" stroke-width="1.1" stroke-opacity="0.45" filter="url(#b8)"/>
<ellipse cx="849.3" cy="815.9" rx="3.8" ry="3.3" transform="rotate(0 849.3 815.9)" fill="#6ab59c" fill-opacity="0.36" stroke="#3a9478" stroke-width="1.1" stroke-opacity="0.54" filter="url(#b8)"/>
<ellipse cx="896.5" cy="820.6" rx="3.8" ry="3.3" transform="rotate(0 896.5 820.6)" fill="#6ab59c" fill-opacity="0.39" stroke="#3a9478" stroke-width="1.4" stroke-opacity="0.59" filter="url(#b8)"/>
<ellipse cx="921.4" cy="826.5" rx="5.7" ry="4.8" transform="rotate(0 921.4 826.5)" fill="#6ab59c" fill-opacity="0.36" stroke="#3a9478" stroke-width="1.1" stroke-opacity="0.54" filter="url(#b8)"/>
<ellipse cx="903.6" cy="837.2" rx="4.8" ry="3.3" transform="rotate(20 903.6 837.2)" fill="#4aa98a" fill-opacity="0.42" stroke="#3a9478" stroke-width="1.4" stroke-opacity="0.63" filter="url(#b8)"/>
<ellipse cx="941.4" cy="840.7" rx="3.3" ry="4.8" transform="rotate(-20 941.4 840.7)" fill="#6ab59c" fill-opacity="0.39" stroke="#3a9478" stroke-width="1.4" stroke-opacity="0.59" filter="url(#b8)"/>
<ellipse cx="927.3" cy="852.5" rx="3.8" ry="3.3" transform="rotate(0 927.3 852.5)" fill="#4aa98a" fill-opacity="0.54" stroke="#1a8a62" stroke-width="1.4" stroke-opacity="0.81" filter="url(#b8)"/>
<ellipse cx="927.3" cy="852.5" rx="2.2" ry="1.9" transform="rotate(0 927.3 852.5)" fill="#13875c" opacity="0.33" filter="url(#b8)"/>
<ellipse cx="948.5" cy="859.6" rx="2.8" ry="3.8" transform="rotate(0 948.5 859.6)" fill="#4aa98a" fill-opacity="0.42" stroke="#3a9478" stroke-width="1.4" stroke-opacity="0.63" filter="url(#b8)"/>
<ellipse cx="920.2" cy="866.7" rx="4.8" ry="2.8" transform="rotate(0 920.2 866.7)" fill="#4aa98a" fill-opacity="0.42" stroke="#3a9478" stroke-width="1.4" stroke-opacity="0.63" filter="url(#b8)"/>
<ellipse cx="985.2" cy="795.8" rx="2.8" ry="4.8" transform="rotate(0 985.2 795.8)" fill="#4aa98a" fill-opacity="0.48" stroke="#3a9478" stroke-width="1.4" stroke-opacity="0.72" filter="url(#b8)"/>
<ellipse cx="1008.8" cy="854.9" rx="4.8" ry="4.8" transform="rotate(-30 1008.8 854.9)" fill="#4aa98a" fill-opacity="0.45" stroke="#3a9478" stroke-width="1.4" stroke-opacity="0.68" filter="url(#b8)"/>
<ellipse cx="999.4" cy="877.4" rx="5.7" ry="3.3" transform="rotate(0 999.4 877.4)" fill="#4aa98a" fill-opacity="0.42" stroke="#3a9478" stroke-width="1.4" stroke-opacity="0.63" filter="url(#b8)"/>
<ellipse cx="851.6" cy="882.1" rx="5.7" ry="3.3" transform="rotate(0 851.6 882.1)" fill="#4aa98a" fill-opacity="0.51" stroke="#1a8a62" stroke-width="1.4" stroke-opacity="0.77" filter="url(#b8)"/>
<ellipse cx="851.6" cy="882.1" rx="3.3" ry="1.9" transform="rotate(0 851.6 882.1)" fill="#13875c" opacity="0.22" filter="url(#b8)"/>
<ellipse cx="813.8" cy="876.2" rx="2.8" ry="4.8" transform="rotate(0 813.8 876.2)" fill="#4aa98a" fill-opacity="0.42" stroke="#3a9478" stroke-width="1.4" stroke-opacity="0.63" filter="url(#b8)"/>
<ellipse cx="790.2" cy="870.3" rx="3.3" ry="2.8" transform="rotate(0 790.2 870.3)" fill="#6ab59c" fill-opacity="0.36" stroke="#3a9478" stroke-width="1.1" stroke-opacity="0.54" filter="url(#b8)"/>
<ellipse cx="832.7" cy="873.8" rx="3.3" ry="2.4" transform="rotate(0 832.7 873.8)" fill="#6ab59c" fill-opacity="0.36" stroke="#3a9478" stroke-width="1.1" stroke-opacity="0.54" filter="url(#b8)"/>
<ellipse cx="904.8" cy="886.8" rx="6.6" ry="2.4" transform="rotate(0 904.8 886.8)" fill="#4aa98a" fill-opacity="0.42" stroke="#3a9478" stroke-width="1.4" stroke-opacity="0.63" filter="url(#b8)"/>
<ellipse cx="883.5" cy="890.4" rx="2.8" ry="2.8" transform="rotate(0 883.5 890.4)" fill="#4aa98a" fill-opacity="0.51" stroke="#1a8a62" stroke-width="1.4" stroke-opacity="0.77" filter="url(#b8)"/>
<ellipse cx="883.5" cy="890.4" rx="1.7" ry="1.7" transform="rotate(0 883.5 890.4)" fill="#13875c" opacity="0.22" filter="url(#b8)"/>
<ellipse cx="934.4" cy="882.1" rx="3.3" ry="2.8" transform="rotate(0 934.4 882.1)" fill="#4aa98a" fill-opacity="0.42" stroke="#3a9478" stroke-width="1.4" stroke-opacity="0.63" filter="url(#b8)"/>
<ellipse cx="949.7" cy="886.8" rx="2.8" ry="3.3" transform="rotate(0 949.7 886.8)" fill="#4aa98a" fill-opacity="0.45" stroke="#3a9478" stroke-width="1.4" stroke-opacity="0.68" filter="url(#b8)"/>
<ellipse cx="868.2" cy="839.5" rx="3.8" ry="2.8" transform="rotate(0 868.2 839.5)" fill="#6ab59c" fill-opacity="0.21" stroke="#3a9478" stroke-width="1.1" stroke-opacity="0.32" filter="url(#b8)"/>
<ellipse cx="783.1" cy="833.6" rx="3.8" ry="2.4" transform="rotate(0 783.1 833.6)" fill="#6ab59c" fill-opacity="0.27" stroke="#3a9478" stroke-width="1.1" stroke-opacity="0.41" filter="url(#b8)"/>
<ellipse cx="799.6" cy="814.7" rx="3.8" ry="2.4" transform="rotate(0 799.6 814.7)" fill="#6ab59c" fill-opacity="0.21" stroke="#3a9478" stroke-width="1.1" stroke-opacity="0.32" filter="url(#b8)"/>
<ellipse cx="953.3" cy="830.1" rx="2.8" ry="3.8" transform="rotate(0 953.3 830.1)" fill="#6ab59c" fill-opacity="0.30" stroke="#3a9478" stroke-width="1.1" stroke-opacity="0.45" filter="url(#b8)"/>
<ellipse cx="981.6" cy="821.8" rx="2.8" ry="2.8" transform="rotate(0 981.6 821.8)" fill="#6ab59c" fill-opacity="0.21" stroke="#3a9478" stroke-width="1.1" stroke-opacity="0.32" filter="url(#b8)"/>
<ellipse cx="992.3" cy="841.9" rx="3.8" ry="2.4" transform="rotate(0 992.3 841.9)" fill="#6ab59c" fill-opacity="0.27" stroke="#3a9478" stroke-width="1.1" stroke-opacity="0.41" filter="url(#b8)"/>
<ellipse cx="837.5" cy="854.9" rx="3.8" ry="2.4" transform="rotate(0 837.5 854.9)" fill="#6ab59c" fill-opacity="0.24" stroke="#3a9478" stroke-width="1.1" stroke-opacity="0.36" filter="url(#b8)"/>
<ellipse cx="891.8" cy="768.6" rx="3.8" ry="2.4" transform="rotate(0 891.8 768.6)" fill="#6ab59c" fill-opacity="0.24" stroke="#3a9478" stroke-width="1.1" stroke-opacity="0.36" filter="url(#b8)"/>
<ellipse cx="939.1" cy="791.1" rx="3.8" ry="2.4" transform="rotate(0 939.1 791.1)" fill="#6ab59c" fill-opacity="0.24" stroke="#3a9478" stroke-width="1.1" stroke-opacity="0.36" filter="url(#b8)"/>
<ellipse cx="965.1" cy="780.5" rx="3.8" ry="2.4" transform="rotate(0 965.1 780.5)" fill="#6ab59c" fill-opacity="0.24" stroke="#3a9478" stroke-width="1.1" stroke-opacity="0.36" filter="url(#b8)"/>
</g>
<clipPath id="ci6"><rect x="194.5" y="935.6" width="239.0" height="138.4"/></clipPath>
<g clip-path="url(#ci6)">
<rect x="194.5" y="935.6" width="239.0" height="138.4" fill="#dddaa1"/>
<radialGradient id="sh6_0"><stop offset="0" stop-color="#8a8858" stop-opacity="0.60"/><stop offset="0.45" stop-color="#8a8858" stop-opacity="0.45"/><stop offset="1" stop-color="#8a8858" stop-opacity="0"/></radialGradient>
<ellipse cx="344.0" cy="1061.0" rx="41.6" ry="27.2" fill="url(#sh6_0)"/>
<radialGradient id="sh6_1"><stop offset="0" stop-color="#a09e70" stop-opacity="0.35"/><stop offset="0.45" stop-color="#a09e70" stop-opacity="0.26"/><stop offset="1" stop-color="#a09e70" stop-opacity="0"/></radialGradient>
<ellipse cx="240.9" cy="1061.6" rx="14.4" ry="11.2" fill="url(#sh6_1)"/>
<rect x="194.5" y="935.6" width="239.0" height="138.4" filter="url(#texL0)" opacity="0.06"/>
<rect x="194.5" y="935.6" width="239.0" height="138.4" filter="url(#texD0)" opacity="0.04"/>
<path d="M370.4,1059.2 Q363.9,1057.8 358.3,1061.4 M195.7,1038.9 Q206.0,1050.3 220.4,1055.5 M288.9,987.1 Q279.8,996.9 274.1,1008.9 M256.1,996.9 Q261.0,1002.5 265.9,1008.3 M199.6,975.9 Q212.6,983.4 225.0,991.9 M197.5,1033.8 Q202.4,1039.3 209.4,1041.5 M300.1,999.4 Q300.8,1012.1 300.3,1024.9 M225.3,949.5 Q232.2,954.3 237.1,961.0 M402.7,959.6 Q409.8,963.2 412.6,970.7 M406.9,1065.4 Q392.6,1067.1 378.4,1069.6 M293.1,979.8 Q302.6,989.0 312.4,997.8 M295.0,1014.4 Q290.1,1029.5 280.2,1041.8 M324.7,1034.4 Q337.0,1033.6 348.0,1039.3 M330.8,1026.3 Q323.0,1034.6 315.8,1043.5 M401.9,954.7 Q393.5,967.7 380.6,976.2 M254.6,962.9 Q251.6,977.7 242.3,989.5 M360.3,966.2 Q372.7,976.1 380.2,990.0 M274.9,988.8 Q276.8,999.9 272.4,1010.1 M259.2,924.5 Q261.5,941.3 260.5,958.2 M229.3,1016.4 Q234.0,1020.5 239.9,1022.2 M312.6,1020.5 Q318.9,1034.6 328.7,1046.6 M395.7,1042.0 Q389.5,1052.8 378.2,1058.1 M244.4,1004.0 Q240.9,1015.6 236.1,1026.8 M210.5,972.8 Q208.2,981.0 202.3,987.0 M379.7,1000.2 Q373.2,1008.7 372.5,1019.4 M264.4,931.3 Q271.4,945.4 283.4,955.7 M294.1,986.6 Q307.4,994.7 322.7,997.3 M275.2,1034.9 Q261.5,1044.1 246.4,1051.0 M422.0,1000.2 Q428.9,1007.3 429.6,1017.1 M356.6,992.8 Q345.3,997.5 333.8,1001.4 M203.2,1011.9 Q200.8,1018.5 199.0,1025.2 M298.6,1020.7 Q303.7,1026.0 304.5,1033.3 M253.5,948.4 Q244.3,948.7 238.4,955.8 M338.7,1037.6 Q340.2,1043.8 344.7,1048.4 M428.3,941.5 Q411.7,946.3 394.6,944.5 M282.4,1057.1 Q290.6,1062.6 299.4,1066.8 M343.8,1033.9 Q346.2,1042.3 343.6,1050.8 M403.7,1054.5 Q419.7,1059.0 433.7,1068.1 M396.2,987.0 Q392.8,1002.4 382.8,1014.5 M219.2,1027.6 Q221.1,1036.5 224.7,1044.8 M195.9,948.7 Q207.4,948.1 218.7,950.0 M292.4,944.6 Q286.3,948.2 282.2,953.9 M310.3,982.3 Q314.4,998.0 313.4,1014.2 M310.0,992.7 Q315.5,1003.4 321.1,1014.1 M214.8,1017.0 Q202.2,1026.8 193.6,1040.3" stroke="#ffffff" stroke-width="1.6" opacity="0.13" fill="none" filter="url(#b6)"/>
<path d="M370.7,1060.4 Q364.1,1059.0 358.5,1062.6 M196.4,1037.9 Q206.6,1049.3 221.1,1054.5 M289.9,987.8 Q280.8,997.6 275.1,1009.6 M257.0,996.1 Q261.9,1001.8 266.8,1007.5 M200.3,974.9 Q213.2,982.4 225.6,990.8 M198.1,1032.8 Q203.0,1038.3 210.1,1040.5 M301.3,999.4 Q302.0,1012.1 301.5,1024.8 M226.1,948.7 Q233.0,953.4 237.9,960.1 M403.6,958.8 Q410.7,962.4 413.5,969.9 M407.1,1066.6 Q392.8,1068.3 378.6,1070.8 M294.0,979.0 Q303.4,988.1 313.2,997.0 M296.1,1015.0 Q291.2,1030.1 281.2,1042.4 M324.9,1033.2 Q337.3,1032.5 348.2,1038.1 M331.7,1027.1 Q323.9,1035.4 316.7,1044.3 M402.8,955.6 Q394.3,968.5 381.5,977.1 M255.7,963.5 Q252.7,978.2 243.4,990.0 M361.2,965.5 Q373.6,975.3 381.1,989.2 M276.1,989.0 Q278.0,1000.0 273.6,1010.3 M260.4,924.5 Q262.7,941.2 261.7,958.2 M229.9,1015.3 Q234.6,1019.4 240.5,1021.1 M313.6,1019.9 Q319.9,1034.0 329.7,1046.0 M396.5,1042.9 Q390.3,1053.7 379.0,1059.0 M245.5,1004.4 Q242.0,1016.1 237.2,1027.2 M211.5,973.4 Q209.3,981.6 203.3,987.6 M380.8,1000.6 Q374.3,1009.1 373.6,1019.8 M265.3,930.5 Q272.4,944.7 284.3,955.0 M294.5,985.5 Q307.8,993.6 323.1,996.2 M275.8,1036.0 Q262.0,1045.2 247.0,1052.1 M423.1,999.7 Q429.9,1006.8 430.7,1016.6 M357.0,994.0 Q345.7,998.6 334.2,1002.6 M204.4,1012.3 Q201.9,1018.8 200.2,1025.5 M299.6,1020.2 Q304.7,1025.5 305.6,1032.8 M254.1,949.5 Q244.8,949.8 238.9,956.9 M339.8,1037.0 Q341.2,1043.3 345.8,1047.8 M428.4,942.7 Q411.8,947.4 394.7,945.7 M283.0,1056.1 Q291.2,1061.5 300.0,1065.8 M345.0,1033.9 Q347.4,1042.4 344.8,1050.8 M404.2,1053.4 Q420.2,1057.9 434.2,1067.0 M397.3,987.5 Q393.9,1002.9 383.8,1015.1 M220.4,1027.3 Q222.2,1036.1 225.8,1044.4 M196.0,947.5 Q207.4,946.9 218.7,948.8 M293.2,945.4 Q287.1,949.0 283.0,954.8 M311.4,982.1 Q315.6,997.9 314.6,1014.1 M311.1,992.1 Q316.6,1002.9 322.2,1013.6 M215.7,1017.8 Q203.0,1027.6 194.4,1041.1" stroke="#5a5a30" stroke-width="0.8" opacity="0.10" fill="none" filter="url(#b5)"/>
</g>
<clipPath id="ci7"><rect x="477.2" y="932.0" width="237.9" height="136.7"/></clipPath>
<g clip-path="url(#ci7)">
<rect x="477.2" y="932.0" width="237.9" height="136.7" fill="#dedfcb"/>
<rect x="477.2" y="932.0" width="237.9" height="136.7" filter="url(#texL1)" opacity="0.08"/>
<rect x="477.2" y="932.0" width="237.9" height="136.7" filter="url(#texD1)" opacity="0.05"/>
<path d="M543.8,996.8 Q536.0,1011.5 527.9,1026.1 M562.9,939.0 Q552.1,952.3 538.5,962.7 M608.4,1016.6 Q619.8,1027.9 628.8,1041.2 M532.6,1000.7 Q523.9,1014.6 510.9,1024.6 M565.5,934.7 Q568.5,942.4 565.9,950.2 M551.1,960.6 Q542.5,967.1 532.0,969.9 M617.6,979.3 Q621.2,988.0 628.5,994.1 M688.1,1020.2 Q678.9,1033.2 667.3,1044.0 M542.7,1001.5 Q530.8,1006.9 522.9,1017.4 M674.3,1054.2 Q665.0,1064.1 659.7,1076.7 M596.0,1025.5 Q596.7,1041.1 594.8,1056.7 M567.7,1003.5 Q568.7,1015.7 568.0,1027.9 M669.0,1023.7 Q653.3,1029.5 636.6,1027.5 M576.8,1022.5 Q574.3,1034.3 568.2,1044.7 M581.3,1044.7 Q567.6,1046.6 556.5,1054.7 M711.5,1045.2 Q695.2,1047.0 681.0,1055.3 M583.7,980.4 Q573.1,984.9 567.5,995.0 M630.7,987.9 Q638.4,987.5 643.3,993.4 M506.8,923.6 Q509.8,934.1 518.8,940.5 M529.2,940.8 Q513.8,944.6 498.4,948.5 M598.9,970.1 Q607.9,976.2 612.0,986.2 M695.7,1043.6 Q709.0,1051.6 723.4,1057.5 M493.9,1023.4 Q494.2,1030.7 489.4,1036.1 M720.4,1054.1 Q709.5,1054.6 699.7,1059.4 M508.6,1038.3 Q518.5,1050.5 530.4,1060.7 M539.7,931.1 Q548.7,937.9 559.8,940.2 M633.6,962.7 Q644.1,963.7 654.1,967.0 M626.5,1030.0 Q620.7,1045.7 614.0,1061.0 M679.0,998.3 Q682.8,1013.1 692.1,1025.1 M520.3,978.2 Q522.6,986.4 526.7,993.9" stroke="#ffffff" stroke-width="1.6" opacity="0.13" fill="none" filter="url(#b6)"/>
<path d="M544.8,997.3 Q537.0,1012.1 529.0,1026.7 M563.7,939.9 Q552.9,953.1 539.4,963.5 M609.4,1015.8 Q620.7,1027.2 629.7,1040.4 M533.5,1001.5 Q524.8,1015.4 511.8,1025.4 M566.7,934.7 Q569.7,942.4 567.1,950.2 M551.7,961.7 Q543.0,968.2 532.5,971.0 M618.6,978.6 Q622.2,987.3 629.5,993.4 M689.0,1021.0 Q679.8,1034.0 668.2,1044.8 M543.5,1002.5 Q531.6,1007.9 523.7,1018.4 M675.3,1054.8 Q666.0,1064.8 660.7,1077.3 M597.2,1025.5 Q597.9,1041.2 596.0,1056.8 M568.9,1003.5 Q569.9,1015.7 569.2,1027.9 M669.2,1024.9 Q653.4,1030.7 636.8,1028.7 M577.9,1022.9 Q575.4,1034.7 569.3,1045.1 M581.7,1045.8 Q568.1,1047.7 556.9,1055.8 M711.9,1046.3 Q695.6,1048.1 681.4,1056.5 M584.5,981.3 Q573.9,985.8 568.3,995.9 M631.2,986.8 Q638.9,986.4 643.8,992.3 M507.8,922.9 Q510.8,933.4 519.7,939.9 M529.5,942.0 Q514.1,945.7 498.7,949.7 M599.8,969.4 Q608.8,975.4 612.9,985.4 M696.2,1042.6 Q709.6,1050.5 723.9,1056.5 M495.0,1023.8 Q495.3,1031.1 490.5,1036.5 M720.7,1055.2 Q709.8,1055.7 700.0,1060.6 M509.4,1037.4 Q519.4,1049.6 531.3,1059.9 M540.2,930.0 Q549.2,936.8 560.3,939.1 M633.9,961.5 Q644.3,962.6 654.3,965.8 M627.6,1030.5 Q621.8,1046.1 615.2,1061.4 M680.1,997.8 Q683.9,1012.5 693.2,1024.6 M521.4,977.7 Q523.7,985.9 527.8,993.5" stroke="#5a5a30" stroke-width="0.8" opacity="0.10" fill="none" filter="url(#b5)"/>
<ellipse cx="485.4" cy="970.3" rx="6.6" ry="2.4" transform="rotate(0 485.4 970.3)" fill="#4aa98a" fill-opacity="0.48" stroke="#3a9478" stroke-width="1.4" stroke-opacity="0.72" filter="url(#b8)"/>
<ellipse cx="492.4" cy="976.9" rx="2.4" ry="1.9" transform="rotate(0 492.4 976.9)" fill="#6ab59c" fill-opacity="0.36" stroke="#3a9478" stroke-width="1.1" stroke-opacity="0.54" filter="url(#b8)"/>
<ellipse cx="555.7" cy="946.4" rx="4.8" ry="2.4" transform="rotate(0 555.7 946.4)" fill="#4aa98a" fill-opacity="0.45" stroke="#3a9478" stroke-width="1.4" stroke-opacity="0.68" filter="url(#b8)"/>
<ellipse cx="583.8" cy="934.2" rx="2.8" ry="1.9" transform="rotate(0 583.8 934.2)" fill="#4aa98a" fill-opacity="0.42" stroke="#3a9478" stroke-width="1.4" stroke-opacity="0.63" filter="url(#b8)"/>
<ellipse cx="553.3" cy="998.0" rx="4.8" ry="2.8" transform="rotate(-30 553.3 998.0)" fill="#4aa98a" fill-opacity="0.51" stroke="#1a8a62" stroke-width="1.4" stroke-opacity="0.77" filter="url(#b8)"/>
<ellipse cx="553.3" cy="998.0" rx="2.8" ry="1.7" transform="rotate(-30 553.3 998.0)" fill="#13875c" opacity="0.22" filter="url(#b8)"/>
<ellipse cx="561.5" cy="1005.0" rx="3.8" ry="3.3" transform="rotate(0 561.5 1005.0)" fill="#4aa98a" fill-opacity="0.54" stroke="#1a8a62" stroke-width="1.4" stroke-opacity="0.81" filter="url(#b8)"/>
<ellipse cx="561.5" cy="1005.0" rx="2.2" ry="1.9" transform="rotate(0 561.5 1005.0)" fill="#13875c" opacity="0.33" filter="url(#b8)"/>
<ellipse cx="563.9" cy="1012.0" rx="2.8" ry="2.4" transform="rotate(0 563.9 1012.0)" fill="#6ab59c" fill-opacity="0.36" stroke="#3a9478" stroke-width="1.1" stroke-opacity="0.54" filter="url(#b8)"/>
<ellipse cx="614.3" cy="983.9" rx="4.8" ry="2.4" transform="rotate(-10 614.3 983.9)" fill="#4aa98a" fill-opacity="0.48" stroke="#3a9478" stroke-width="1.4" stroke-opacity="0.72" filter="url(#b8)"/>
<ellipse cx="602.6" cy="993.3" rx="5.7" ry="2.8" transform="rotate(15 602.6 993.3)" fill="#4aa98a" fill-opacity="0.51" stroke="#1a8a62" stroke-width="1.4" stroke-opacity="0.77" filter="url(#b8)"/>
<ellipse cx="602.6" cy="993.3" rx="3.3" ry="1.7" transform="rotate(15 602.6 993.3)" fill="#13875c" opacity="0.22" filter="url(#b8)"/>
<ellipse cx="610.8" cy="995.6" rx="3.8" ry="2.4" transform="rotate(0 610.8 995.6)" fill="#4aa98a" fill-opacity="0.48" stroke="#3a9478" stroke-width="1.4" stroke-opacity="0.72" filter="url(#b8)"/>
<ellipse cx="665.8" cy="976.9" rx="10.4" ry="2.8" transform="rotate(-5 665.8 976.9)" fill="#4aa98a" fill-opacity="0.51" stroke="#1a8a62" stroke-width="1.4" stroke-opacity="0.77" filter="url(#b8)"/>
<ellipse cx="665.8" cy="976.9" rx="6.1" ry="1.7" transform="rotate(-5 665.8 976.9)" fill="#13875c" opacity="0.22" filter="url(#b8)"/>
<ellipse cx="637.7" cy="987.4" rx="4.8" ry="1.9" transform="rotate(-10 637.7 987.4)" fill="#6ab59c" fill-opacity="0.36" stroke="#3a9478" stroke-width="1.1" stroke-opacity="0.54" filter="url(#b8)"/>
<ellipse cx="603.7" cy="1017.9" rx="3.3" ry="2.8" transform="rotate(0 603.7 1017.9)" fill="#4aa98a" fill-opacity="0.51" stroke="#1a8a62" stroke-width="1.4" stroke-opacity="0.77" filter="url(#b8)"/>
<ellipse cx="603.7" cy="1017.9" rx="1.9" ry="1.7" transform="rotate(0 603.7 1017.9)" fill="#13875c" opacity="0.22" filter="url(#b8)"/>
<ellipse cx="622.5" cy="1017.9" rx="2.8" ry="2.8" transform="rotate(0 622.5 1017.9)" fill="#6ab59c" fill-opacity="0.39" stroke="#3a9478" stroke-width="1.4" stroke-opacity="0.59" filter="url(#b8)"/>
<ellipse cx="480.7" cy="1034.3" rx="4.8" ry="2.8" transform="rotate(0 480.7 1034.3)" fill="#4aa98a" fill-opacity="0.51" stroke="#1a8a62" stroke-width="1.4" stroke-opacity="0.77" filter="url(#b8)"/>
<ellipse cx="480.7" cy="1034.3" rx="2.8" ry="1.7" transform="rotate(0 480.7 1034.3)" fill="#13875c" opacity="0.22" filter="url(#b8)"/>
<ellipse cx="539.3" cy="1035.5" rx="7.6" ry="2.8" transform="rotate(0 539.3 1035.5)" fill="#4aa98a" fill-opacity="0.45" stroke="#3a9478" stroke-width="1.4" stroke-opacity="0.68" filter="url(#b8)"/>
<ellipse cx="548.6" cy="1060.1" rx="5.7" ry="2.4" transform="rotate(0 548.6 1060.1)" fill="#4aa98a" fill-opacity="0.54" stroke="#1a8a62" stroke-width="1.4" stroke-opacity="0.81" filter="url(#b8)"/>
<ellipse cx="548.6" cy="1060.1" rx="3.3" ry="1.4" transform="rotate(0 548.6 1060.1)" fill="#13875c" opacity="0.33" filter="url(#b8)"/>
<ellipse cx="602.6" cy="1060.1" rx="3.3" ry="2.1" transform="rotate(0 602.6 1060.1)" fill="#4aa98a" fill-opacity="0.48" stroke="#3a9478" stroke-width="1.4" stroke-opacity="0.72" filter="url(#b8)"/>
<ellipse cx="663.5" cy="1051.9" rx="4.8" ry="2.8" transform="rotate(0 663.5 1051.9)" fill="#4aa98a" fill-opacity="0.48" stroke="#3a9478" stroke-width="1.4" stroke-opacity="0.72" filter="url(#b8)"/>
<ellipse cx="665.8" cy="1036.6" rx="2.8" ry="2.8" transform="rotate(0 665.8 1036.6)" fill="#6ab59c" fill-opacity="0.24" stroke="#3a9478" stroke-width="1.1" stroke-opacity="0.36" filter="url(#b8)"/>
<ellipse cx="614.3" cy="1040.1" rx="3.8" ry="2.8" transform="rotate(0 614.3 1040.1)" fill="#6ab59c" fill-opacity="0.24" stroke="#3a9478" stroke-width="1.1" stroke-opacity="0.36" filter="url(#b8)"/>
<ellipse cx="504.1" cy="1028.4" rx="3.8" ry="2.8" transform="rotate(0 504.1 1028.4)" fill="#6ab59c" fill-opacity="0.21" stroke="#3a9478" stroke-width="1.1" stroke-opacity="0.32" filter="url(#b8)"/>
<ellipse cx="686.9" cy="955.8" rx="2.8" ry="2.8" transform="rotate(0 686.9 955.8)" fill="#6ab59c" fill-opacity="0.21" stroke="#3a9478" stroke-width="1.1" stroke-opacity="0.32" filter="url(#b8)"/>
<ellipse cx="679.9" cy="934.7" rx="3.8" ry="2.8" transform="rotate(0 679.9 934.7)" fill="#6ab59c" fill-opacity="0.21" stroke="#3a9478" stroke-width="1.1" stroke-opacity="0.32" filter="url(#b8)"/>
<ellipse cx="649.4" cy="962.8" rx="3.8" ry="2.8" transform="rotate(0 649.4 962.8)" fill="#6ab59c" fill-opacity="0.21" stroke="#3a9478" stroke-width="1.1" stroke-opacity="0.32" filter="url(#b8)"/>
<ellipse cx="630.7" cy="1012.0" rx="3.8" ry="2.8" transform="rotate(0 630.7 1012.0)" fill="#6ab59c" fill-opacity="0.21" stroke="#3a9478" stroke-width="1.1" stroke-opacity="0.32" filter="url(#b8)"/>
</g>
<clipPath id="ci8"><rect x="780.8" y="935.6" width="238.1" height="138.6"/></clipPath>
<g clip-path="url(#ci8)">
<rect x="780.8" y="935.6" width="238.1" height="138.6" fill="#b8b37d"/>
<radialGradient id="sh8_0"><stop offset="0" stop-color="#8e8a5c" stop-opacity="0.30"/><stop offset="0.45" stop-color="#8e8a5c" stop-opacity="0.22"/><stop offset="1" stop-color="#8e8a5c" stop-opacity="0"/></radialGradient>
<ellipse cx="931.0" cy="984.0" rx="32.0" ry="22.4" fill="url(#sh8_0)"/>
<radialGradient id="sh8_1"><stop offset="0" stop-color="#405030" stop-opacity="0.50"/><stop offset="0.45" stop-color="#405030" stop-opacity="0.38"/><stop offset="1" stop-color="#405030" stop-opacity="0"/></radialGradient>
<ellipse cx="958.0" cy="945.0" rx="9.6" ry="4.8" fill="url(#sh8_1)"/>
<rect x="780.8" y="935.6" width="238.1" height="138.6" filter="url(#texL2)" opacity="0.06"/>
<rect x="780.8" y="935.6" width="238.1" height="138.6" filter="url(#texD2)" opacity="0.07"/>
<path d="M806.3,1034.0 Q813.5,1048.0 817.4,1063.3 M820.7,941.9 Q825.8,949.1 834.2,951.8 M841.9,957.8 Q827.0,965.0 810.5,966.1 M861.7,1063.1 Q856.2,1072.0 853.6,1082.1 M946.5,935.6 Q935.1,943.6 923.2,951.0 M879.7,1032.7 Q863.5,1038.1 846.5,1038.8 M978.3,1001.9 Q961.6,1003.6 944.8,1005.1 M993.4,1051.3 Q992.1,1059.3 997.6,1065.1 M830.9,984.9 Q834.6,997.4 842.4,1008.0 M812.2,1017.4 Q824.0,1020.8 836.3,1019.5 M969.8,1045.7 Q971.7,1054.0 968.2,1061.8 M941.1,1014.2 Q956.3,1019.0 969.9,1027.3 M786.1,1058.4 Q797.1,1065.8 809.7,1069.7 M896.7,980.4 Q887.1,991.4 877.3,1002.2 M841.8,983.7 Q851.8,987.1 859.0,995.0 M910.4,1058.4 Q917.7,1069.1 917.8,1082.1 M1005.7,972.4 Q997.5,977.6 994.0,986.7 M815.5,945.3 Q807.1,945.3 798.8,945.6 M794.3,1022.0 Q806.3,1022.5 816.1,1029.5 M880.1,1069.5 Q869.5,1070.8 858.7,1070.1 M846.9,943.5 Q856.2,952.8 869.0,955.8 M928.3,925.8 Q928.1,938.6 930.4,951.3 M929.4,940.9 Q927.8,952.5 920.1,961.4 M981.5,1032.4 Q989.6,1033.6 997.3,1036.2 M932.7,1015.8 Q930.1,1022.6 928.4,1029.7 M830.4,995.6 Q824.2,1007.4 813.3,1015.0 M801.4,1016.9 Q795.2,1032.9 795.1,1050.0 M862.7,947.6 Q869.0,959.7 879.8,968.0 M966.1,936.9 Q960.7,945.5 951.1,948.4 M847.6,939.2 Q833.9,939.0 820.5,942.2" stroke="#ffffff" stroke-width="1.6" opacity="0.13" fill="none" filter="url(#b6)"/>
<path d="M807.5,1033.5 Q814.7,1047.6 818.5,1062.9 M821.4,940.9 Q826.5,948.1 834.9,950.8 M842.2,958.9 Q827.3,966.2 810.8,967.3 M862.8,1063.6 Q857.4,1072.5 854.7,1082.6 M947.2,936.6 Q935.8,944.6 923.9,952.0 M879.9,1033.9 Q863.7,1039.3 846.7,1040.0 M978.4,1003.1 Q961.7,1004.8 944.9,1006.3 M994.6,1051.0 Q993.3,1058.9 998.8,1064.8 M832.0,984.3 Q835.7,996.9 843.5,1007.4 M812.3,1016.2 Q824.1,1019.6 836.4,1018.3 M970.9,1045.8 Q972.9,1054.1 969.4,1061.9 M941.6,1013.1 Q956.8,1017.9 970.3,1026.2 M786.6,1057.4 Q797.6,1064.7 810.3,1068.6 M897.6,981.2 Q888.0,992.2 878.2,1003.0 M842.5,982.7 Q852.5,986.1 859.6,994.0 M911.5,1058.0 Q918.8,1068.7 918.9,1081.7 M1006.7,973.2 Q998.4,978.4 994.9,987.5 M815.5,946.5 Q807.2,946.5 798.8,946.8 M794.7,1020.9 Q806.7,1021.3 816.5,1028.4 M880.2,1070.7 Q869.5,1072.0 858.8,1071.3 M847.5,942.4 Q856.8,951.7 869.6,954.7 M929.5,925.7 Q929.3,938.5 931.6,951.2 M930.5,941.4 Q928.9,953.0 921.2,961.9 M981.8,1031.2 Q989.9,1032.4 997.6,1035.1 M933.8,1016.1 Q931.3,1023.0 929.5,1030.1 M831.3,996.4 Q825.1,1008.2 814.2,1015.8 M802.6,1017.1 Q796.4,1033.1 796.3,1050.3 M863.6,946.9 Q869.9,958.9 880.7,967.2 M966.8,937.9 Q961.5,946.4 951.8,949.3 M847.7,940.4 Q834.0,940.2 820.6,943.4" stroke="#5a5a30" stroke-width="0.8" opacity="0.10" fill="none" filter="url(#b5)"/>
<ellipse cx="920.6" cy="952.7" rx="5.2" ry="7.6" transform="rotate(0 920.6 952.7)" fill="#4aa98a" fill-opacity="0.60" stroke="#1a8a62" stroke-width="1.4" stroke-opacity="0.90" filter="url(#b8)"/>
<ellipse cx="920.6" cy="952.7" rx="3.0" ry="4.4" transform="rotate(0 920.6 952.7)" fill="#13875c" opacity="0.55" filter="url(#b8)"/>
<ellipse cx="907.7" cy="948.1" rx="4.3" ry="4.3" transform="rotate(0 907.7 948.1)" fill="#4aa98a" fill-opacity="0.48" stroke="#3a9478" stroke-width="1.4" stroke-opacity="0.72" filter="url(#b8)"/>
<ellipse cx="849.1" cy="942.2" rx="4.3" ry="3.3" transform="rotate(0 849.1 942.2)" fill="#4aa98a" fill-opacity="0.42" stroke="#3a9478" stroke-width="1.4" stroke-opacity="0.63" filter="url(#b8)"/>
<ellipse cx="894.8" cy="994.9" rx="4.3" ry="4.3" transform="rotate(-20 894.8 994.9)" fill="#4aa98a" fill-opacity="0.60" stroke="#1a8a62" stroke-width="1.4" stroke-opacity="0.90" filter="url(#b8)"/>
<ellipse cx="894.8" cy="994.9" rx="2.5" ry="2.5" transform="rotate(-20 894.8 994.9)" fill="#13875c" opacity="0.55" filter="url(#b8)"/>
<ellipse cx="867.9" cy="976.2" rx="3.3" ry="2.8" transform="rotate(0 867.9 976.2)" fill="#4aa98a" fill-opacity="0.45" stroke="#3a9478" stroke-width="1.4" stroke-opacity="0.68" filter="url(#b8)"/>
<ellipse cx="913.6" cy="976.2" rx="3.3" ry="2.8" transform="rotate(0 913.6 976.2)" fill="#6ab59c" fill-opacity="0.36" stroke="#3a9478" stroke-width="1.1" stroke-opacity="0.54" filter="url(#b8)"/>
<ellipse cx="931.2" cy="984.4" rx="2.8" ry="2.8" transform="rotate(0 931.2 984.4)" fill="#4aa98a" fill-opacity="0.48" stroke="#3a9478" stroke-width="1.4" stroke-opacity="0.72" filter="url(#b8)"/>
<ellipse cx="831.6" cy="1006.7" rx="5.7" ry="4.3" transform="rotate(0 831.6 1006.7)" fill="#4aa98a" fill-opacity="0.48" stroke="#3a9478" stroke-width="1.4" stroke-opacity="0.72" filter="url(#b8)"/>
<ellipse cx="849.1" cy="1020.7" rx="4.8" ry="3.8" transform="rotate(0 849.1 1020.7)" fill="#4aa98a" fill-opacity="0.51" stroke="#1a8a62" stroke-width="1.4" stroke-opacity="0.77" filter="url(#b8)"/>
<ellipse cx="849.1" cy="1020.7" rx="2.8" ry="2.2" transform="rotate(0 849.1 1020.7)" fill="#13875c" opacity="0.22" filter="url(#b8)"/>
<ellipse cx="829.2" cy="1037.1" rx="4.3" ry="3.3" transform="rotate(0 829.2 1037.1)" fill="#4aa98a" fill-opacity="0.48" stroke="#3a9478" stroke-width="1.4" stroke-opacity="0.72" filter="url(#b8)"/>
<ellipse cx="808.1" cy="1009.0" rx="4.3" ry="3.3" transform="rotate(0 808.1 1009.0)" fill="#6ab59c" fill-opacity="0.33" stroke="#3a9478" stroke-width="1.1" stroke-opacity="0.50" filter="url(#b8)"/>
<ellipse cx="852.7" cy="994.9" rx="4.3" ry="3.3" transform="rotate(0 852.7 994.9)" fill="#6ab59c" fill-opacity="0.27" stroke="#3a9478" stroke-width="1.1" stroke-opacity="0.41" filter="url(#b8)"/>
<ellipse cx="889.0" cy="1007.8" rx="3.3" ry="3.3" transform="rotate(0 889.0 1007.8)" fill="#6ab59c" fill-opacity="0.33" stroke="#3a9478" stroke-width="1.1" stroke-opacity="0.50" filter="url(#b8)"/>
<ellipse cx="871.4" cy="1025.4" rx="3.3" ry="2.8" transform="rotate(0 871.4 1025.4)" fill="#6ab59c" fill-opacity="0.33" stroke="#3a9478" stroke-width="1.1" stroke-opacity="0.50" filter="url(#b8)"/>
<ellipse cx="901.9" cy="1021.9" rx="3.3" ry="3.3" transform="rotate(0 901.9 1021.9)" fill="#6ab59c" fill-opacity="0.33" stroke="#3a9478" stroke-width="1.1" stroke-opacity="0.50" filter="url(#b8)"/>
<ellipse cx="918.3" cy="1006.7" rx="4.3" ry="3.3" transform="rotate(0 918.3 1006.7)" fill="#6ab59c" fill-opacity="0.30" stroke="#3a9478" stroke-width="1.1" stroke-opacity="0.45" filter="url(#b8)"/>
<ellipse cx="934.7" cy="1027.7" rx="4.3" ry="2.8" transform="rotate(0 934.7 1027.7)" fill="#6ab59c" fill-opacity="0.39" stroke="#3a9478" stroke-width="1.4" stroke-opacity="0.59" filter="url(#b8)"/>
<ellipse cx="923.0" cy="1048.8" rx="5.2" ry="3.3" transform="rotate(0 923.0 1048.8)" fill="#4aa98a" fill-opacity="0.57" stroke="#1a8a62" stroke-width="1.4" stroke-opacity="0.85" filter="url(#b8)"/>
<ellipse cx="923.0" cy="1048.8" rx="3.0" ry="1.9" transform="rotate(0 923.0 1048.8)" fill="#13875c" opacity="0.44" filter="url(#b8)"/>
<ellipse cx="883.1" cy="1059.4" rx="4.3" ry="2.8" transform="rotate(0 883.1 1059.4)" fill="#4aa98a" fill-opacity="0.48" stroke="#3a9478" stroke-width="1.4" stroke-opacity="0.72" filter="url(#b8)"/>
<ellipse cx="858.5" cy="1039.5" rx="4.3" ry="3.3" transform="rotate(0 858.5 1039.5)" fill="#6ab59c" fill-opacity="0.33" stroke="#3a9478" stroke-width="1.1" stroke-opacity="0.50" filter="url(#b8)"/>
<ellipse cx="839.8" cy="1055.9" rx="4.3" ry="2.4" transform="rotate(0 839.8 1055.9)" fill="#4aa98a" fill-opacity="0.45" stroke="#3a9478" stroke-width="1.4" stroke-opacity="0.68" filter="url(#b8)"/>
<ellipse cx="816.3" cy="1061.7" rx="4.3" ry="2.8" transform="rotate(0 816.3 1061.7)" fill="#4aa98a" fill-opacity="0.45" stroke="#3a9478" stroke-width="1.4" stroke-opacity="0.68" filter="url(#b8)"/>
<ellipse cx="794.1" cy="1065.2" rx="4.3" ry="2.4" transform="rotate(0 794.1 1065.2)" fill="#6ab59c" fill-opacity="0.36" stroke="#3a9478" stroke-width="1.1" stroke-opacity="0.54" filter="url(#b8)"/>
<ellipse cx="967.5" cy="1058.2" rx="4.3" ry="2.8" transform="rotate(0 967.5 1058.2)" fill="#4aa98a" fill-opacity="0.48" stroke="#3a9478" stroke-width="1.4" stroke-opacity="0.72" filter="url(#b8)"/>
<ellipse cx="983.9" cy="991.4" rx="5.7" ry="4.3" transform="rotate(0 983.9 991.4)" fill="#4aa98a" fill-opacity="0.48" stroke="#3a9478" stroke-width="1.4" stroke-opacity="0.72" filter="url(#b8)"/>
<ellipse cx="1000.3" cy="983.2" rx="4.3" ry="3.3" transform="rotate(0 1000.3 983.2)" fill="#4aa98a" fill-opacity="0.42" stroke="#3a9478" stroke-width="1.4" stroke-opacity="0.63" filter="url(#b8)"/>
<ellipse cx="994.4" cy="1007.8" rx="3.8" ry="2.8" transform="rotate(0 994.4 1007.8)" fill="#6ab59c" fill-opacity="0.36" stroke="#3a9478" stroke-width="1.1" stroke-opacity="0.54" filter="url(#b8)"/>
<ellipse cx="1008.5" cy="1017.2" rx="4.3" ry="4.3" transform="rotate(0 1008.5 1017.2)" fill="#4aa98a" fill-opacity="0.42" stroke="#3a9478" stroke-width="1.4" stroke-opacity="0.63" filter="url(#b8)"/>
<ellipse cx="982.7" cy="1030.1" rx="4.3" ry="4.3" transform="rotate(0 982.7 1030.1)" fill="#6ab59c" fill-opacity="0.36" stroke="#3a9478" stroke-width="1.1" stroke-opacity="0.54" filter="url(#b8)"/>
<ellipse cx="990.9" cy="1046.5" rx="4.3" ry="3.3" transform="rotate(0 990.9 1046.5)" fill="#6ab59c" fill-opacity="0.33" stroke="#3a9478" stroke-width="1.1" stroke-opacity="0.50" filter="url(#b8)"/>
<ellipse cx="1014.4" cy="973.8" rx="2.8" ry="2.8" transform="rotate(0 1014.4 973.8)" fill="#6ab59c" fill-opacity="0.36" stroke="#3a9478" stroke-width="1.1" stroke-opacity="0.54" filter="url(#b8)"/>
<ellipse cx="784.7" cy="973.8" rx="2.8" ry="2.8" transform="rotate(0 784.7 973.8)" fill="#6ab59c" fill-opacity="0.36" stroke="#3a9478" stroke-width="1.1" stroke-opacity="0.54" filter="url(#b8)"/>
<ellipse cx="794.1" cy="966.8" rx="3.8" ry="2.8" transform="rotate(0 794.1 966.8)" fill="#6ab59c" fill-opacity="0.24" stroke="#3a9478" stroke-width="1.1" stroke-opacity="0.36" filter="url(#b8)"/>
<ellipse cx="830.4" cy="1021.9" rx="2.8" ry="2.8" transform="rotate(0 830.4 1021.9)" fill="#6ab59c" fill-opacity="0.36" stroke="#3a9478" stroke-width="1.1" stroke-opacity="0.54" filter="url(#b8)"/>
<ellipse cx="913.6" cy="1027.7" rx="2.8" ry="2.8" transform="rotate(0 913.6 1027.7)" fill="#6ab59c" fill-opacity="0.30" stroke="#3a9478" stroke-width="1.1" stroke-opacity="0.45" filter="url(#b8)"/>
<ellipse cx="939.4" cy="1051.2" rx="3.8" ry="2.8" transform="rotate(0 939.4 1051.2)" fill="#6ab59c" fill-opacity="0.33" stroke="#3a9478" stroke-width="1.1" stroke-opacity="0.50" filter="url(#b8)"/>
<ellipse cx="958.1" cy="1030.1" rx="2.8" ry="2.8" transform="rotate(0 958.1 1030.1)" fill="#6ab59c" fill-opacity="0.27" stroke="#3a9478" stroke-width="1.1" stroke-opacity="0.41" filter="url(#b8)"/>
<ellipse cx="808.1" cy="1037.1" rx="2.8" ry="2.8" transform="rotate(0 808.1 1037.1)" fill="#6ab59c" fill-opacity="0.24" stroke="#3a9478" stroke-width="1.1" stroke-opacity="0.36" filter="url(#b8)"/>
</g>
<circle cx="787" cy="1003" r="1.3" fill="#222"/>
<circle cx="324.5" cy="586.5" r="1.3" fill="#444" opacity="0.8"/>
<path d="M477,758.6 h3 v1.5 h-3z M711.9,758.6 h3 v2 h-3z" fill="#111"/>
<text x="289.6" y="737.2" font-family="Liberation Sans" font-weight="bold" font-size="19.6" textLength="50.6" lengthAdjust="spacingAndGlyphs">(0%)</text>
<text x="568.1" y="735.3" font-family="Liberation Sans" font-weight="bold" font-size="19.6" textLength="64.6" lengthAdjust="spacingAndGlyphs">(30%)</text>
<text x="885.5" y="734.8" font-family="Liberation Sans" font-weight="bold" font-size="19.6" textLength="64.0" lengthAdjust="spacingAndGlyphs">(48%)</text>
<text x="283.9" y="912.6" font-family="Liberation Sans" font-weight="bold" font-size="19.6" textLength="52.1" lengthAdjust="spacingAndGlyphs">(0%)</text>
<text x="559.8" y="913.9" font-family="Liberation Sans" font-weight="bold" font-size="19.6" textLength="63.4" lengthAdjust="spacingAndGlyphs">(54%)</text>
<text x="867.7" y="914.5" font-family="Liberation Sans" font-weight="bold" font-size="19.6" textLength="63.7" lengthAdjust="spacingAndGlyphs">(59%)</text>
<text x="283.9" y="1093.0" font-family="Liberation Sans" font-weight="bold" font-size="19.6" textLength="52.1" lengthAdjust="spacingAndGlyphs">(0%)</text>
<text x="558.4" y="1093.0" font-family="Liberation Sans" font-weight="bold" font-size="19.6" textLength="64.8" lengthAdjust="spacingAndGlyphs">(50%)</text>
<text x="862.4" y="1093.5" font-family="Liberation Sans" font-weight="bold" font-size="19.6" textLength="64.2" lengthAdjust="spacingAndGlyphs">(79%)</text>
<text x="488.5" y="600.8" font-family="Liberation Sans" font-weight="bold" font-size="12.5" textLength="55.3" lengthAdjust="spacingAndGlyphs">76 days</text>
<text x="788.4" y="600.4" font-family="Liberation Sans" font-weight="bold" font-size="12.5" textLength="63.6" lengthAdjust="spacingAndGlyphs">100 days</text>
<text x="488.7" y="774.7" font-family="Liberation Sans" font-weight="bold" font-size="12.5" textLength="54.7" lengthAdjust="spacingAndGlyphs">76 days</text>
<text x="788.8" y="774.8" font-family="Liberation Sans" font-weight="bold" font-size="12.5" textLength="62.9" lengthAdjust="spacingAndGlyphs">100 days</text>
<text x="488.7" y="951.1" font-family="Liberation Sans" font-weight="bold" font-size="12.5" textLength="55.5" lengthAdjust="spacingAndGlyphs">65 days</text>
<text x="792.0" y="950.6" font-family="Liberation Sans" font-weight="bold" font-size="12.5" textLength="56.2" lengthAdjust="spacingAndGlyphs">76 days</text>
<text x="81" y="1150.9" font-family="Liberation Serif" font-weight="bold" font-size="28" textLength="21" lengthAdjust="spacingAndGlyphs">C</text>
<text x="243.6" y="1123.1" font-family="Liberation Serif" font-size="24.5" textLength="145.7" lengthAdjust="spacingAndGlyphs">Early passages</text>
<text x="484.5" y="1123.1" font-family="Liberation Serif" font-size="24.5" textLength="137.4" lengthAdjust="spacingAndGlyphs">Late passages</text>
<text x="711.0" y="1123.1" font-family="Liberation Serif" font-size="24.5" textLength="113.4" lengthAdjust="spacingAndGlyphs">Senescence</text>
<text x="245.5" y="1162.2" font-family="Liberation Serif" font-size="19.5" textLength="13.7" lengthAdjust="spacingAndGlyphs">C</text>
<text x="306.9" y="1162.2" font-family="Liberation Serif" font-size="19.5" textLength="67.6" lengthAdjust="spacingAndGlyphs">5mGy/h</text>
<text x="380.3" y="1162.2" font-family="Liberation Serif" font-size="19.5" textLength="76.2" lengthAdjust="spacingAndGlyphs">15mGy/h</text>
<text x="478.4" y="1162.2" font-family="Liberation Serif" font-size="19.5" textLength="14.1" lengthAdjust="spacingAndGlyphs">C</text>
<text x="536.1" y="1162.2" font-family="Liberation Serif" font-size="19.5" textLength="65.6" lengthAdjust="spacingAndGlyphs">5mGy/h</text>
<text x="608.8" y="1162.2" font-family="Liberation Serif" font-size="19.5" textLength="75.9" lengthAdjust="spacingAndGlyphs">15mGy/h</text>
<text x="696.9" y="1162.2" font-family="Liberation Serif" font-size="19.5" textLength="14.1" lengthAdjust="spacingAndGlyphs">C</text>
<text x="747.0" y="1162.2" font-family="Liberation Serif" font-size="19.5" textLength="66.6" lengthAdjust="spacingAndGlyphs">5mGy/h</text>
<text x="831.5" y="1162.2" font-family="Liberation Serif" font-size="19.5" textLength="77.3" lengthAdjust="spacingAndGlyphs">15mGy/h</text>
<text x="156.2" y="1207.8" font-family="Liberation Serif" font-weight="bold" font-size="23.4" textLength="36.9" lengthAdjust="spacingAndGlyphs">p53</text>
<text x="158.2" y="1274.1" font-family="Liberation Serif" font-weight="bold" font-size="23.4" textLength="34.9" lengthAdjust="spacingAndGlyphs">p21</text>
<text x="157.0" y="1351.9" font-family="Liberation Serif" font-weight="bold" font-size="23.4" textLength="38.1" lengthAdjust="spacingAndGlyphs">p16</text>
<text x="149.1" y="1423.2" font-family="Liberation Serif" font-weight="bold" font-size="23.4" textLength="50.6" lengthAdjust="spacingAndGlyphs">actin</text>
<clipPath id="c53"><rect x="211" y="1171.2" width="698" height="56"/></clipPath>
<g clip-path="url(#c53)">
<rect x="211" y="1171.2" width="698" height="56" fill="#cbcbcb"/>
<rect x="211" y="1171.2" width="231" height="56" fill="#e4e4e4"/>
<rect x="442" y="1171.2" width="230" height="8" fill="#d2d2d2" filter="url(#b20)"/>
<path d="M224.0,1184.0 Q224.0,1178.0 230.0,1178.0 L277.0,1178.0 Q283.0,1178.0 283.0,1184.0 L283.0,1192.0 Q283.0,1198.0 277.0,1198.0 L230.0,1198.0 Q224.0,1198.0 224.0,1192.0 Z" fill="#cdcdcd" filter="url(#b30)"/>
<path d="M298.0,1181.0 Q298.0,1175.0 304.0,1175.0 L354.0,1175.0 Q360.0,1175.0 360.0,1181.0 L360.0,1192.0 Q360.0,1198.0 354.0,1198.0 L304.0,1198.0 Q298.0,1198.0 298.0,1192.0 Z" fill="url(#g0)" filter="url(#b30)"/>
<path d="M376.0,1179.0 Q376.0,1173.0 382.0,1173.0 L432.0,1173.0 Q438.0,1173.0 438.0,1179.0 L438.0,1192.0 Q438.0,1198.0 432.0,1198.0 L382.0,1198.0 Q376.0,1198.0 376.0,1192.0 Z" fill="url(#g1)" filter="url(#b30)"/>
<path d="M453.0,1182.0 Q453.0,1176.0 459.0,1176.0 L508.0,1176.0 Q514.0,1176.0 514.0,1182.0 L514.0,1192.0 Q514.0,1198.0 508.0,1198.0 L459.0,1198.0 Q453.0,1198.0 453.0,1192.0 Z" fill="#ababab" filter="url(#b30)"/>
<path d="M526.0,1182.0 Q526.0,1176.0 532.0,1176.0 L580.0,1176.0 Q586.0,1176.0 586.0,1182.0 L586.0,1192.0 Q586.0,1198.0 580.0,1198.0 L532.0,1198.0 Q526.0,1198.0 526.0,1192.0 Z" fill="#adadad" filter="url(#b30)"/>
<path d="M600.0,1183.0 Q600.0,1177.0 606.0,1177.0 L654.0,1177.0 Q660.0,1177.0 660.0,1183.0 L660.0,1192.0 Q660.0,1198.0 654.0,1198.0 L606.0,1198.0 Q600.0,1198.0 600.0,1192.0 Z" fill="#a8a8a8" filter="url(#b30)"/>
<path d="M672.0,1190.0 Q672.0,1184.0 678.0,1184.0 L733.0,1184.0 Q739.0,1184.0 739.0,1190.0 L739.0,1194.0 Q739.0,1200.0 733.0,1200.0 L678.0,1200.0 Q672.0,1200.0 672.0,1194.0 Z" fill="#5a5a5a" filter="url(#b30)"/>
<path d="M748.0,1191.0 Q748.0,1185.0 754.0,1185.0 L808.0,1185.0 Q814.0,1185.0 814.0,1191.0 L814.0,1194.0 Q814.0,1200.0 808.0,1200.0 L754.0,1200.0 Q748.0,1200.0 748.0,1194.0 Z" fill="#6e6e6e" filter="url(#b30)"/>
<path d="M829.0,1186.0 Q829.0,1180.0 835.0,1179.7 L892.0,1177.3 Q898.0,1177.0 898.0,1183.0 L898.0,1186.0 Q898.0,1192.0 892.0,1192.3 L835.0,1194.7 Q829.0,1195.0 829.0,1189.0 Z" fill="#5e5e5e" filter="url(#b30)"/>
<rect x="516" y="1171.2" width="9" height="56" fill="#d6d6d6" filter="url(#b25)"/>
<rect x="589" y="1171.2" width="9" height="56" fill="#d6d6d6" filter="url(#b25)"/>
<rect x="663" y="1171.2" width="8" height="56" fill="#d9d9d9" filter="url(#b25)"/>
<rect x="741" y="1171.2" width="6" height="56" fill="#d6d6d6" filter="url(#b25)"/>
<rect x="817" y="1171.2" width="10" height="56" fill="#dadada" filter="url(#b25)"/>
<rect x="900" y="1171.2" width="10" height="56" fill="#dcdcdc" filter="url(#b25)"/>
<path d="M220.0,1203.2 Q220.0,1197.5 225.8,1197.5 L277.2,1197.5 Q283.0,1197.5 283.0,1203.2 L283.0,1203.2 Q283.0,1209.0 277.2,1209.0 L225.8,1209.0 Q220.0,1209.0 220.0,1203.2 Z" fill="url(#g2)" filter="url(#b22)"/>
<path d="M297.0,1203.0 Q297.0,1197.0 303.0,1197.0 L356.0,1197.0 Q362.0,1197.0 362.0,1203.0 L362.0,1203.5 Q362.0,1209.5 356.0,1209.5 L303.0,1209.5 Q297.0,1209.5 297.0,1203.5 Z" fill="url(#g3)" filter="url(#b22)"/>
<path d="M375.0,1202.5 Q375.0,1196.5 381.0,1196.5 L433.0,1196.5 Q439.0,1196.5 439.0,1202.5 L439.0,1204.5 Q439.0,1210.5 433.0,1210.5 L381.0,1210.5 Q375.0,1210.5 375.0,1204.5 Z" fill="url(#g4)" filter="url(#b22)"/>
<path d="M452.0,1201.8 Q452.0,1196.0 457.8,1196.0 L509.2,1196.0 Q515.0,1196.0 515.0,1201.8 L515.0,1201.8 Q515.0,1207.5 509.2,1207.5 L457.8,1207.5 Q452.0,1207.5 452.0,1201.8 Z" fill="url(#g5)" filter="url(#b20)"/>
<path d="M525.0,1202.0 Q525.0,1196.0 531.0,1196.0 L581.0,1196.0 Q587.0,1196.0 587.0,1202.0 L587.0,1202.5 Q587.0,1208.5 581.0,1208.5 L531.0,1208.5 Q525.0,1208.5 525.0,1202.5 Z" fill="url(#g6)" filter="url(#b20)"/>
<path d="M599.0,1203.0 Q599.0,1197.0 605.0,1197.0 L656.0,1197.0 Q662.0,1197.0 662.0,1203.0 L662.0,1204.5 Q662.0,1210.5 656.0,1210.5 L605.0,1210.5 Q599.0,1210.5 599.0,1204.5 Z" fill="url(#g7)" filter="url(#b20)"/>
<path d="M671.0,1204.0 Q671.0,1195.0 680.0,1195.0 L731.0,1195.0 Q740.0,1195.0 740.0,1204.0 L740.0,1209.0 Q740.0,1218.0 731.0,1218.0 L680.0,1218.0 Q671.0,1218.0 671.0,1209.0 Z" fill="#000000" filter="url(#b24)"/>
<path d="M747.0,1205.0 Q747.0,1196.0 756.0,1196.0 L806.0,1196.0 Q815.0,1196.0 815.0,1205.0 L815.0,1207.5 Q815.0,1216.5 806.0,1216.5 L756.0,1216.5 Q747.0,1216.5 747.0,1207.5 Z" fill="#000000" filter="url(#b24)"/>
<path d="M828.0,1203.0 Q828.0,1196.0 835.0,1195.2 L892.0,1188.8 Q899.0,1188.0 899.0,1195.0 L899.0,1198.0 Q899.0,1205.0 892.0,1205.7 L835.0,1211.3 Q828.0,1212.0 828.0,1205.0 Z" fill="#000000" filter="url(#b24)"/>
<filter id="nz" x="0" y="0" width="100%" height="100%"><feTurbulence type="fractalNoise" baseFrequency="0.3" numOctaves="1" seed="5"/><feColorMatrix type="matrix" values="0 0 0 0 1  0 0 0 0 1  0 0 0 0 1  4 0 0 0 -2.2"/></filter>
<filter id="nzd" x="0" y="0" width="100%" height="100%"><feTurbulence type="fractalNoise" baseFrequency="0.3" numOctaves="1" seed="9"/><feColorMatrix type="matrix" values="0 0 0 0 0  0 0 0 0 0  0 0 0 0 0  4 0 0 0 -2.3"/></filter>
<rect x="211" y="1171.2" width="231" height="56" filter="url(#nz)" opacity="0.25"/>
<rect x="211" y="1171.2" width="231" height="56" filter="url(#nzd)" opacity="0.06"/>
</g>
<clipPath id="c21"><rect x="210.4" y="1241.8" width="697" height="55.5"/></clipPath>
<g clip-path="url(#c21)">
<rect x="210.4" y="1241.8" width="697" height="55.5" fill="#b3b3b3"/>
<rect x="210.4" y="1236" width="697" height="14" fill="#bdbdbd" filter="url(#b30)"/>
<rect x="210.4" y="1294" width="697" height="8" fill="#a6a6a6" filter="url(#b15)"/>
<path d="M221.0,1264.2 Q221.0,1260.0 225.2,1260.2 L283.8,1262.3 Q288.0,1262.5 288.0,1266.8 L288.0,1267.2 Q288.0,1271.5 283.8,1271.3 L225.2,1268.7 Q221.0,1268.5 221.0,1264.2 Z" fill="url(#g8)" filter="url(#b26)"/>
<path d="M301.0,1271.2 Q301.0,1266.0 306.2,1266.0 L356.8,1266.0 Q362.0,1266.0 362.0,1271.2 L362.0,1271.2 Q362.0,1276.5 356.8,1276.5 L306.2,1276.5 Q301.0,1276.5 301.0,1271.2 Z" fill="url(#g9)" filter="url(#b26)"/>
<path d="M376.0,1271.5 Q376.0,1266.5 381.0,1266.5 L430.0,1266.5 Q435.0,1266.5 435.0,1271.5 L435.0,1271.5 Q435.0,1276.5 430.0,1276.5 L381.0,1276.5 Q376.0,1276.5 376.0,1271.5 Z" fill="url(#g10)" filter="url(#b28)"/>
<path d="M449.0,1271.8 Q449.0,1266.5 454.2,1266.5 L506.8,1266.5 Q512.0,1266.5 512.0,1271.8 L512.0,1271.8 Q512.0,1277.0 506.8,1277.0 L454.2,1277.0 Q449.0,1277.0 449.0,1271.8 Z" fill="url(#g11)" filter="url(#b24)"/>
<path d="M523.0,1272.2 Q523.0,1267.5 527.8,1267.5 L581.2,1267.5 Q586.0,1267.5 586.0,1272.2 L586.0,1272.2 Q586.0,1277.0 581.2,1277.0 L527.8,1277.0 Q523.0,1277.0 523.0,1272.2 Z" fill="url(#g12)" filter="url(#b24)"/>
<path d="M597.0,1272.8 Q597.0,1268.0 601.8,1268.0 L656.2,1268.0 Q661.0,1268.0 661.0,1272.8 L661.0,1272.8 Q661.0,1277.5 656.2,1277.5 L601.8,1277.5 Q597.0,1277.5 597.0,1272.8 Z" fill="url(#g13)" filter="url(#b26)"/>
<path d="M671.0,1273.0 Q671.0,1264.0 680.0,1263.9 L733.0,1263.1 Q742.0,1263.0 742.0,1272.0 L742.0,1278.0 Q742.0,1287.0 733.0,1287.1 L680.0,1287.9 Q671.0,1288.0 671.0,1279.0 Z" fill="#303030" filter="url(#b24)"/>
<path d="M737.0,1273.0 Q737.0,1264.0 746.0,1263.9 L807.0,1263.1 Q816.0,1263.0 816.0,1272.0 L816.0,1273.0 Q816.0,1282.0 807.0,1282.2 L746.0,1283.8 Q737.0,1284.0 737.0,1275.0 Z" fill="#323232" filter="url(#b24)"/>
<path d="M826.0,1273.0 Q826.0,1268.0 831.0,1267.8 L886.0,1265.2 Q891.0,1265.0 891.0,1270.0 L891.0,1271.0 Q891.0,1276.0 886.0,1276.5 L831.0,1281.5 Q826.0,1282.0 826.0,1277.0 Z" fill="#8e8e8e" filter="url(#b35)"/>
<path d="M825.0,1268.0 Q825.0,1262.5 830.5,1262.2 L885.5,1259.8 Q891.0,1259.5 891.0,1265.0 L891.0,1264.5 Q891.0,1270.0 885.5,1270.4 L830.5,1274.6 Q825.0,1275.0 825.0,1269.5 Z" fill="#303030" filter="url(#b20)"/>
<rect x="895" y="1241.8" width="13" height="55.5" fill="#c8c8c8" filter="url(#b25)"/>
<rect x="672" y="1286" width="140" height="9" fill="#a8a8a8" filter="url(#b30)" opacity="0.6"/>
</g>
<clipPath id="c16"><rect x="210.3" y="1314.8" width="698.5" height="56.2"/></clipPath>
<g clip-path="url(#c16)">
<defs><linearGradient id="p16g" x1="0" x2="1" y1="0" y2="0"><stop offset="0" stop-color="#adadad"/><stop offset="0.3" stop-color="#aeaeae"/><stop offset="0.55" stop-color="#acacac"/><stop offset="0.64" stop-color="#a2a2a2"/><stop offset="0.72" stop-color="#9e9e9e"/><stop offset="0.8" stop-color="#aeaeae"/><stop offset="0.88" stop-color="#c6c6c6"/><stop offset="0.95" stop-color="#dedede"/><stop offset="1" stop-color="#ededed"/></linearGradient></defs>
<rect x="210.3" y="1314.8" width="698.5" height="56.2" fill="url(#p16g)"/>
<ellipse cx="715" cy="1326" rx="80" ry="16" fill="#7a7a7a" opacity="0.45" filter="url(#b80)"/>
<rect x="210.3" y="1314.8" width="698.5" height="1.4" fill="#7a7a7a" opacity="0.6"/>
<rect x="210.3" y="1369.6" width="698.5" height="1.4" fill="#7a7a7a" opacity="0.6"/>
<rect x="895" y="1314.8" width="20" height="56.2" fill="#f4f4f4" filter="url(#b40)"/>
<path d="M677.0,1346.0 Q677.0,1336.0 687.0,1336.0 L730.0,1336.0 Q740.0,1336.0 740.0,1346.0 L740.0,1350.0 Q740.0,1360.0 730.0,1360.0 L687.0,1360.0 Q677.0,1360.0 677.0,1350.0 Z" fill="url(#g14)" filter="url(#b36)"/>
<path d="M755.0,1345.5 Q755.0,1338.5 762.0,1338.5 L809.0,1338.5 Q816.0,1338.5 816.0,1345.5 L816.0,1347.5 Q816.0,1354.5 809.0,1354.5 L762.0,1354.5 Q755.0,1354.5 755.0,1347.5 Z" fill="url(#g15)" filter="url(#b34)"/>
<path d="M830.0,1341.0 Q830.0,1334.0 837.0,1333.7 L891.0,1331.3 Q898.0,1331.0 898.0,1338.0 L898.0,1340.0 Q898.0,1347.0 891.0,1347.3 L837.0,1349.7 Q830.0,1350.0 830.0,1343.0 Z" fill="url(#g16)" filter="url(#b36)"/>
</g>
<clipPath id="cac"><rect x="212.3" y="1392.8" width="698" height="47.9"/></clipPath>
<g clip-path="url(#cac)">
<rect x="212.3" y="1392.8" width="698" height="47.9" fill="#e6e6e6"/>
<rect x="212.3" y="1392.8" width="16" height="47.9" fill="#f2f2f2" filter="url(#b30)"/>
<rect x="299" y="1392.8" width="6" height="47.9" fill="#f0f0f0" filter="url(#b25)"/>
<rect x="374" y="1392.8" width="6" height="47.9" fill="#f0f0f0" filter="url(#b25)"/>
<rect x="450" y="1392.8" width="6" height="47.9" fill="#f0f0f0" filter="url(#b25)"/>
<rect x="523" y="1392.8" width="6" height="47.9" fill="#f0f0f0" filter="url(#b25)"/>
<rect x="597" y="1392.8" width="6" height="47.9" fill="#f0f0f0" filter="url(#b25)"/>
<rect x="673" y="1392.8" width="6" height="47.9" fill="#f0f0f0" filter="url(#b25)"/>
<rect x="745" y="1392.8" width="6" height="47.9" fill="#f0f0f0" filter="url(#b25)"/>
<rect x="818" y="1392.8" width="6" height="47.9" fill="#f0f0f0" filter="url(#b25)"/>
<rect x="897" y="1392.8" width="6" height="47.9" fill="#f0f0f0" filter="url(#b25)"/>
<rect x="212.3" y="1432" width="698" height="9" fill="#dedede" filter="url(#b30)"/>
<path d="M238.0,1394.8 Q264.8,1399.8 291.6,1400.9 C305.1,1400.9 305.1,1425.3 291.6,1425.3 Q264.8,1422.2 238.0,1419.2 C224.5,1419.2 224.5,1394.8 238.0,1394.8 Z" fill="#000" filter="url(#b18)"/>
<path d="M314.9,1399.6 Q340.5,1405.0 366.1,1404.5 C379.6,1404.5 379.6,1430.2 366.1,1430.2 Q340.5,1427.1 314.9,1424.0 C301.4,1424.0 301.4,1399.6 314.9,1399.6 Z" fill="#000" filter="url(#b18)"/>
<path d="M391.4,1402.0 Q415.0,1407.5 438.6,1403.0 C454.8,1403.0 454.8,1432.6 438.6,1432.6 Q415.0,1432.6 391.4,1432.6 C375.2,1432.6 375.2,1402.0 391.4,1402.0 Z" fill="#000" filter="url(#b18)"/>
<path d="M465.1,1409.3 Q490.4,1411.3 515.8,1409.3 C525.7,1409.3 525.7,1427.3 515.8,1427.3 Q490.4,1427.3 465.1,1427.3 C455.2,1427.3 455.2,1409.3 465.1,1409.3 Z" fill="#000" filter="url(#b18)"/>
<path d="M540.3,1407.1 Q564.2,1418.1 588.1,1407.1 C600.5,1407.1 600.5,1429.6 588.1,1429.6 Q564.2,1422.8 540.3,1429.6 C527.9,1429.6 527.9,1407.1 540.3,1407.1 Z" fill="#000" filter="url(#b18)"/>
<path d="M612.6,1406.0 Q637.9,1420.7 663.1,1409.3 C674.2,1409.3 674.2,1429.6 663.1,1429.6 Q637.9,1426.6 612.6,1429.6 C601.5,1429.6 601.5,1406.0 612.6,1406.0 Z" fill="#000" filter="url(#b18)"/>
<path d="M688.7,1408.5 Q712.4,1417.5 736.1,1408.5 C745.2,1408.5 745.2,1425.0 736.1,1425.0 Q712.4,1420.0 688.7,1425.0 C679.6,1425.0 679.6,1408.5 688.7,1408.5 Z" fill="#000" filter="url(#b18)"/>
<path d="M760.4,1413.3 Q784.6,1414.3 808.9,1413.3 C817.1,1413.3 817.1,1428.3 808.9,1428.3 Q784.6,1428.3 760.4,1428.3 C752.1,1428.3 752.1,1413.3 760.4,1413.3 Z" fill="#000" filter="url(#b18)"/>
<path d="M835.6,1409.5 Q860.8,1407.5 886.0,1403.5 C895.6,1403.5 895.6,1421.0 886.0,1421.0 Q860.8,1423.0 835.6,1427.0 C826.0,1427.0 826.0,1409.5 835.6,1409.5 Z" fill="#000" filter="url(#b18)"/>
</g>
</svg>
</body></html>
